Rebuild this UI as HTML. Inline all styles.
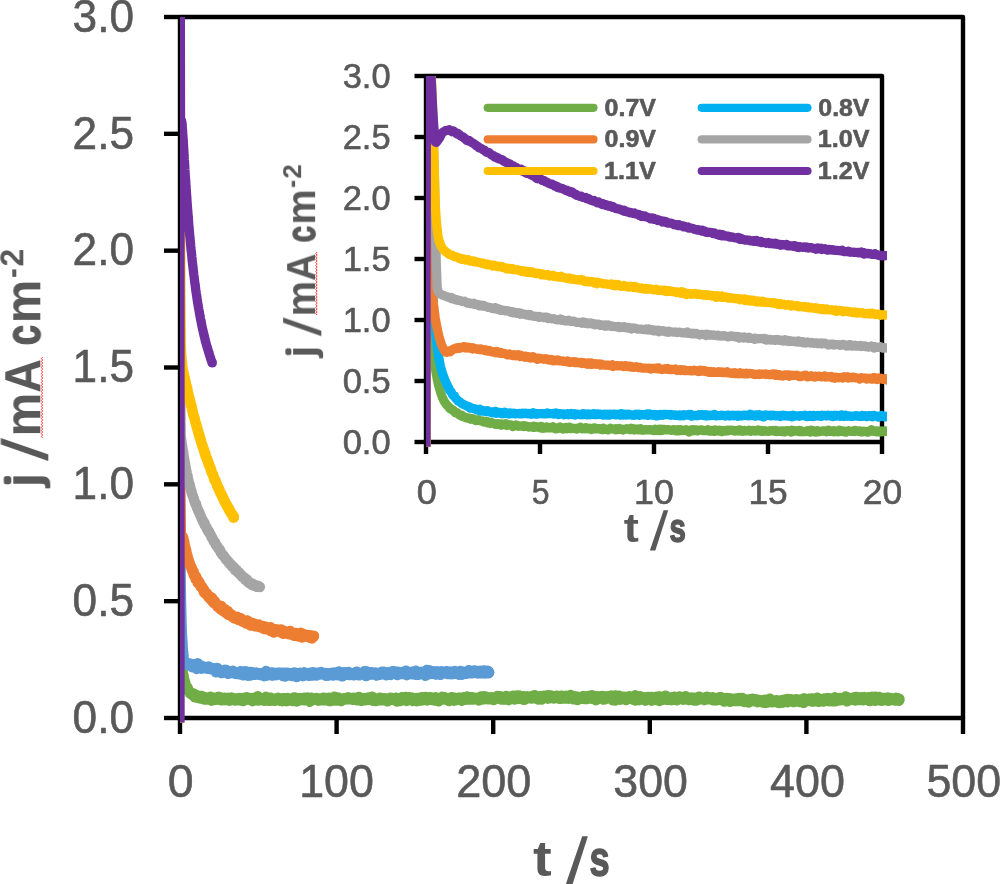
<!DOCTYPE html>
<html><head><meta charset="utf-8"><title>chart</title><style>html,body{margin:0;padding:0;background:#fff;overflow:hidden}svg{display:block}</style></head><body><svg width="1000" height="884" viewBox="0 0 1000 884">
<defs><clipPath id="cm"><rect x="180" y="17" width="830" height="720"/></clipPath><clipPath id="ci"><rect x="426" y="76" width="461" height="380"/></clipPath></defs>
<rect width="1000" height="884" fill="#fff"/>
<g stroke="#000" stroke-width="4.4" fill="none" stroke-linecap="butt" stroke-linejoin="round">
<rect x="180.0" y="17.0" width="783.0" height="701.0"/>
<path d="M164,718.00H180.0"/>
<path d="M164,601.17H180.0"/>
<path d="M164,484.33H180.0"/>
<path d="M164,367.50H180.0"/>
<path d="M164,250.67H180.0"/>
<path d="M164,133.83H180.0"/>
<path d="M164,17.00H180.0"/>
<path d="M180.00,718.0V734"/>
<path d="M336.60,718.0V734"/>
<path d="M493.20,718.0V734"/>
<path d="M649.80,718.0V734"/>
<path d="M806.40,718.0V734"/>
<path d="M963.00,718.0V734"/>
</g>
<g clip-path="url(#cm)" fill="none" stroke-linejoin="round" stroke-linecap="butt">
<path d="M178.7,722.4 178.8,-123.1 178.9,-86.4 179.5,487.2 180.1,587.7 180.6,623.8 181.0,643.6 181.4,654.3 181.8,659.7 182.2,664.8 182.5,670.0 182.8,673.0 183.2,674.8 183.5,675.3 183.8,677.5 184.1,680.0 184.5,679.8 184.8,682.2 185.1,682.0 185.4,683.7 185.7,684.1 186.0,686.5 186.3,686.2 186.7,688.4 187.0,688.9 187.3,689.2 187.6,687.5 187.9,689.8 188.2,690.7 188.5,691.2 188.8,690.0 189.2,691.3 189.5,691.2 189.8,691.6 190.1,693.7 190.4,692.1 190.7,693.1 191.0,694.2 191.4,693.0 191.7,693.7 192.0,694.1 192.3,694.2 192.6,693.2 192.9,694.6 193.2,696.0 193.5,693.4 193.9,695.8 194.2,695.3 194.5,694.7 194.8,697.4 195.1,696.3 195.4,694.6 195.7,696.0 196.1,696.6 196.4,695.9 196.7,696.9 197.0,696.3 197.3,697.1 197.6,697.9 197.9,696.0 198.2,697.0 198.6,696.4 198.9,697.1 199.2,695.9 199.5,696.6 199.8,697.1 200.1,698.2 200.4,698.5 200.7,696.3 201.1,696.9 201.4,698.3 201.7,695.9 202.0,697.4 202.3,697.8 202.6,699.1 202.9,698.7 203.3,697.7 203.6,697.7 203.9,697.9 204.2,699.6 204.5,697.8 204.8,697.9 205.1,698.6 205.4,698.2 205.8,698.1 206.1,697.3 206.4,698.3 206.7,697.9 207.0,699.5 207.3,699.0 207.6,698.4 208.0,699.1 208.3,698.1 208.6,699.5 208.9,698.5 209.2,699.1 209.5,697.3 209.8,698.9 210.1,696.9 210.5,696.6 210.8,698.3 211.1,697.7 211.4,698.8 211.7,700.7 212.0,697.8 212.3,698.0 212.7,698.8 213.0,699.1 213.3,698.5 213.6,698.5 213.9,699.4 214.2,699.2 214.5,697.7 214.8,698.6 215.2,698.8 215.5,697.7 215.8,699.0 216.1,697.9 216.4,699.7 216.7,699.0 217.0,698.9 217.3,698.2 217.7,698.7 218.0,696.9 218.3,697.8 218.6,699.2 218.9,696.8 219.2,699.7 219.5,697.2 219.9,699.6 220.2,698.1 220.5,699.6 220.8,699.0 221.1,697.5 221.4,700.1 221.7,700.3 222.0,698.9 222.4,698.7 222.7,698.8 223.0,698.1 223.3,700.0 223.6,698.5 223.9,699.0 224.2,698.3 224.6,698.4 224.9,697.8 225.2,700.2 225.5,698.9 225.8,700.0 226.1,699.1 226.4,698.4 226.7,698.8 227.1,698.6 227.4,699.1 227.7,698.8 228.0,698.8 228.3,697.8 228.6,698.4 228.9,700.7 229.3,698.5 229.6,698.2 229.9,699.5 230.2,700.5 230.5,697.8 230.8,699.0 231.1,698.6 231.4,697.5 231.8,699.9 232.1,699.2 232.4,699.3 232.7,698.5 233.0,699.7 233.3,698.7 233.6,699.1 233.9,698.2 234.3,698.1 234.6,700.5 234.9,698.8 235.2,699.5 235.5,699.2 235.8,698.8 236.1,698.8 236.5,699.9 236.8,699.0 237.1,699.1 237.4,699.3 237.7,700.4 238.0,699.9 238.3,699.7 238.6,698.8 239.0,698.0 239.3,700.2 239.6,700.2 239.9,699.2 240.2,699.8 240.5,700.0 240.8,700.1 241.2,700.2 241.5,698.9 241.8,700.7 242.1,698.1 242.4,700.1 242.7,699.8 243.0,700.1 243.3,701.1 243.7,700.7 244.0,698.2 244.3,697.7 244.6,700.1 244.9,698.3 245.2,699.3 245.5,700.1 245.9,697.7 246.2,697.3 246.5,699.6 246.8,699.3 247.1,699.1 247.4,699.3 247.7,698.5 248.0,697.9 248.4,699.1 248.7,698.4 249.0,697.7 249.3,699.8 249.6,699.2 249.9,699.7 250.2,698.4 250.5,698.7 250.9,698.4 251.2,698.5 251.5,699.5 251.8,698.6 252.1,699.6 252.4,699.6 252.7,701.2 253.1,698.0 253.4,700.2 253.7,699.2 254.0,699.3 254.3,697.9 254.6,698.9 254.9,700.0 255.2,699.2 255.6,699.4 255.9,699.0 256.2,700.4 256.5,699.3 256.8,697.2 257.1,698.6 257.4,697.4 257.8,696.2 258.1,698.8 258.4,700.6 258.7,699.4 259.0,698.2 259.3,698.4 259.6,700.4 259.9,699.5 260.3,699.4 260.6,699.3 260.9,699.3 261.2,700.1 261.5,699.8 261.8,699.5 262.1,698.3 262.4,699.8 262.8,698.7 263.1,700.3 263.4,698.1 263.7,699.2 264.0,699.3 264.3,698.0 264.6,700.9 265.0,700.7 265.3,698.9 265.6,700.0 265.9,699.7 266.2,696.8 266.5,699.5 266.8,699.2 267.1,699.4 267.5,698.3 267.8,699.1 268.1,699.1 268.4,700.4 268.7,699.6 269.0,699.3 269.3,700.8 269.7,698.8 270.0,698.9 270.3,697.6 270.6,700.8 270.9,700.2 271.2,700.2 271.5,699.9 271.8,699.4 272.2,699.5 272.5,699.1 272.8,699.1 273.1,699.4 273.4,700.7 273.7,699.8 274.0,699.3 274.4,698.8 274.7,698.7 275.0,700.8 275.3,699.8 275.6,699.4 275.9,699.0 276.2,698.3 276.5,699.2 276.9,700.1 277.2,698.9 277.5,699.1 277.8,699.1 278.1,699.4 278.4,697.8 278.7,699.1 279.0,698.5 279.4,700.1 279.7,698.6 280.0,699.9 280.3,700.8 280.6,699.0 280.9,698.7 281.2,699.5 281.6,699.3 281.9,698.4 282.2,699.7 282.5,701.2 282.8,699.1 283.1,699.1 283.4,698.3 283.7,699.6 284.1,698.1 284.4,698.3 284.7,700.5 285.0,698.4 285.3,700.3 285.6,700.8 285.9,699.6 286.3,699.8 286.6,701.2 286.9,699.1 287.2,698.7 287.5,698.0 287.8,699.3 288.1,700.7 288.4,700.2 288.8,698.4 289.1,698.5 289.4,698.8 289.7,699.6 290.0,699.1 290.3,699.5 290.6,699.6 291.0,699.0 291.3,699.3 291.6,699.5 291.9,699.2 292.2,699.8 292.5,701.1 292.8,699.9 293.1,699.4 293.5,697.7 293.8,699.7 294.1,697.5 294.4,698.0 294.7,700.1 295.0,700.0 295.3,699.2 295.6,697.7 296.0,699.0 296.3,698.7 296.6,699.9 296.9,701.5 297.2,699.5 297.5,698.6 297.8,698.2 298.2,699.3 298.5,699.1 298.8,698.2 299.1,699.4 299.4,698.2 299.7,700.4 300.0,700.3 300.3,700.3 300.7,698.9 301.0,699.8 301.3,699.2 301.6,698.9 301.9,699.0 302.2,698.1 302.5,697.9 302.9,700.1 303.2,699.1 303.5,699.5 303.8,700.3 304.1,697.7 304.4,698.6 304.7,699.5 305.0,699.7 305.4,698.9 305.7,700.3 306.0,699.5 306.3,698.2 306.6,698.4 306.9,700.1 307.2,699.7 307.6,697.5 307.9,700.6 308.2,699.9 308.5,700.6 308.8,698.9 309.1,699.0 309.4,698.2 309.7,701.7 310.1,699.1 310.4,700.8 310.7,698.7 311.0,699.5 311.3,697.7 311.6,698.9 311.9,700.2 312.2,698.1 312.6,700.3 312.9,699.6 313.2,698.3 313.5,698.8 313.8,698.9 314.1,699.3 314.4,698.8 314.8,698.5 315.1,699.0 315.4,698.3 315.7,698.1 316.0,699.3 316.3,700.1 316.6,697.9 316.9,699.3 317.3,698.7 317.6,698.4 317.9,700.1 318.2,698.8 318.5,700.7 318.8,698.6 319.1,699.7 319.5,699.1 319.8,698.6 320.1,699.9 320.4,699.2 320.7,699.9 321.0,699.3 321.3,698.3 321.6,699.2 322.0,699.4 322.3,700.2 322.6,698.4 322.9,699.3 323.2,697.7 323.5,699.9 323.8,698.3 324.2,697.6 324.5,699.3 324.8,700.4 325.1,697.9 325.4,698.3 325.7,698.6 326.0,698.2 326.3,699.7 326.7,698.5 327.0,698.6 327.3,699.9 327.6,698.6 327.9,699.7 328.2,698.4 328.5,698.2 328.8,697.6 329.2,701.1 329.5,699.0 329.8,699.5 330.1,699.3 330.4,699.5 330.7,699.4 331.0,701.1 331.4,698.3 331.7,697.8 332.0,698.3 332.3,698.0 332.6,700.0 332.9,700.1 333.2,698.4 333.5,698.0 333.9,699.0 334.2,700.6 334.5,696.6 334.8,699.8 335.1,698.3 335.4,700.3 335.7,698.3 336.1,699.0 336.4,697.9 336.7,698.4 337.0,700.6 337.3,700.1 337.6,698.9 337.9,698.5 338.2,697.5 338.6,698.9 338.9,699.3 339.2,699.2 339.5,699.2 339.8,698.2 340.1,699.2 340.4,699.3 340.7,700.5 341.1,701.1 341.4,699.2 341.7,698.6 342.0,699.2 342.3,698.7 342.6,698.6 342.9,699.2 343.3,698.3 343.6,699.9 343.9,699.2 344.2,699.5 344.5,699.1 344.8,698.6 345.1,698.4 345.4,699.1 345.8,698.8 346.1,699.5 346.4,699.3 346.7,698.0 347.0,699.4 347.3,698.0 347.6,698.7 348.0,699.0 348.3,697.3 348.6,699.4 348.9,699.4 349.2,699.1 349.5,698.9 349.8,698.9 350.1,698.4 350.5,699.0 350.8,698.8 351.1,699.4 351.4,698.2 351.7,699.5 352.0,699.4 352.3,699.2 352.7,698.9 353.0,699.8 353.3,697.7 353.6,699.7 353.9,699.5 354.2,699.6 354.5,699.7 354.8,698.7 355.2,699.0 355.5,699.9 355.8,699.7 356.1,699.5 356.4,697.8 356.7,699.8 357.0,700.4 357.3,700.2 357.7,699.5 358.0,697.8 358.3,700.2 358.6,699.1 358.9,696.9 359.2,699.6 359.5,697.9 359.9,698.0 360.2,698.7 360.5,700.5 360.8,698.9 361.1,699.5 361.4,700.9 361.7,700.8 362.0,699.2 362.4,699.0 362.7,698.1 363.0,698.6 363.3,699.7 363.6,699.6 363.9,699.4 364.2,700.2 364.6,698.5 364.9,699.2 365.2,700.0 365.5,699.8 365.8,700.3 366.1,699.6 366.4,699.0 366.7,699.6 367.1,698.3 367.4,697.7 367.7,699.8 368.0,699.2 368.3,699.6 368.6,697.6 368.9,698.9 369.3,698.7 369.6,698.4 369.9,697.1 370.2,698.9 370.5,700.1 370.8,699.6 371.1,698.7 371.4,699.2 371.8,700.0 372.1,696.6 372.4,699.1 372.7,699.8 373.0,699.9 373.3,700.9 373.6,700.3 373.9,699.5 374.3,699.5 374.6,700.0 374.9,698.7 375.2,699.2 375.5,700.1 375.8,701.1 376.1,699.1 376.5,699.2 376.8,699.4 377.1,700.5 377.4,699.2 377.7,700.6 378.0,698.3 378.3,699.1 378.6,699.0 379.0,700.0 379.3,700.2 379.6,697.8 379.9,698.4 380.2,699.5 380.5,698.6 380.8,697.8 381.2,700.2 381.5,699.7 381.8,699.7 382.1,698.8 382.4,700.2 382.7,699.0 383.0,700.3 383.3,698.3 383.7,698.4 384.0,699.4 384.3,698.5 384.6,699.8 384.9,699.5 385.2,698.3 385.5,699.3 385.9,698.9 386.2,700.1 386.5,698.6 386.8,698.8 387.1,700.3 387.4,701.3 387.7,701.1 388.0,699.3 388.4,699.4 388.7,700.6 389.0,699.1 389.3,698.3 389.6,699.3 389.9,699.6 390.2,698.4 390.5,697.6 390.9,697.8 391.2,699.8 391.5,698.5 391.8,699.0 392.1,699.4 392.4,699.8 392.7,698.9 393.1,699.6 393.4,698.3 393.7,698.8 394.0,698.2 394.3,700.2 394.6,699.1 394.9,698.5 395.2,698.8 395.6,699.0 395.9,699.8 396.2,697.6 396.5,698.2 396.8,698.8 397.1,701.6 397.4,700.1 397.8,699.0 398.1,699.8 398.4,701.1 398.7,698.9 399.0,698.8 399.3,700.3 399.6,699.6 399.9,699.8 400.3,698.7 400.6,701.0 400.9,700.8 401.2,699.7 401.5,699.8 401.8,697.2 402.1,699.7 402.5,698.9 402.8,699.5 403.1,699.8 403.4,698.8 403.7,697.5 404.0,699.5 404.3,698.4 404.6,698.8 405.0,698.5 405.3,698.8 405.6,696.9 405.9,700.3 406.2,699.4 406.5,700.2 406.8,701.0 407.1,699.1 407.5,697.4 407.8,698.3 408.1,698.0 408.4,698.6 408.7,699.2 409.0,697.2 409.3,699.4 409.7,697.7 410.0,699.4 410.3,699.0 410.6,698.8 410.9,699.0 411.2,698.6 411.5,698.5 411.8,697.5 412.2,699.1 412.5,700.8 412.8,701.0 413.1,700.3 413.4,699.8 413.7,698.4 414.0,700.4 414.4,699.0 414.7,699.0 415.0,698.8 415.3,699.2 415.6,698.7 415.9,699.0 416.2,698.0 416.5,698.7 416.9,701.2 417.2,699.0 417.5,698.8 417.8,699.6 418.1,699.7 418.4,698.0 418.7,698.9 419.0,699.9 419.4,699.3 419.7,699.2 420.0,700.5 420.3,698.4 420.6,699.1 420.9,698.5 421.2,700.5 421.6,697.2 421.9,698.4 422.2,698.5 422.5,699.7 422.8,699.6 423.1,700.3 423.4,697.5 423.7,699.7 424.1,698.7 424.4,698.4 424.7,699.5 425.0,698.1 425.3,697.0 425.6,698.7 425.9,697.6 426.3,698.4 426.6,699.4 426.9,699.3 427.2,700.5 427.5,698.8 427.8,697.5 428.1,698.3 428.4,698.1 428.8,697.8 429.1,699.4 429.4,698.4 429.7,697.1 430.0,699.6 430.3,698.9 430.6,699.3 431.0,699.1 431.3,699.6 431.6,699.0 431.9,700.1 432.2,699.4 432.5,699.3 432.8,699.3 433.1,697.6 433.5,698.8 433.8,698.7 434.1,699.1 434.4,697.6 434.7,700.5 435.0,699.0 435.3,697.8 435.6,697.3 436.0,698.6 436.3,698.8 436.6,698.2 436.9,699.0 437.2,698.3 437.5,699.4 437.8,698.2 438.2,698.9 438.5,699.8 438.8,701.3 439.1,697.9 439.4,698.4 439.7,698.1 440.0,699.6 440.3,697.8 440.7,698.4 441.0,698.8 441.3,697.9 441.6,697.9 441.9,698.4 442.2,696.8 442.5,697.5 442.9,698.4 443.2,699.0 443.5,698.7 443.8,697.1 444.1,698.4 444.4,699.6 444.7,699.3 445.0,698.7 445.4,698.0 445.7,699.4 446.0,698.2 446.3,697.7 446.6,698.0 446.9,700.2 447.2,699.0 447.6,699.9 447.9,698.3 448.2,699.7 448.5,698.2 448.8,698.6 449.1,701.1 449.4,699.5 449.7,698.3 450.1,698.7 450.4,699.1 450.7,699.9 451.0,698.3 451.3,697.1 451.6,698.5 451.9,698.7 452.2,698.8 452.6,700.0 452.9,699.0 453.2,699.5 453.5,697.7 453.8,699.5 454.1,700.7 454.4,699.4 454.8,698.9 455.1,698.8 455.4,700.4 455.7,697.8 456.0,698.6 456.3,699.1 456.6,699.4 456.9,698.2 457.3,698.9 457.6,698.4 457.9,698.8 458.2,698.5 458.5,697.6 458.8,698.6 459.1,699.5 459.5,697.7 459.8,698.4 460.1,699.2 460.4,697.6 460.7,698.8 461.0,697.6 461.3,699.7 461.6,700.8 462.0,700.5 462.3,698.4 462.6,699.3 462.9,698.7 463.2,698.7 463.5,700.0 463.8,697.3 464.2,699.6 464.5,698.5 464.8,699.9 465.1,698.7 465.4,697.9 465.7,698.8 466.0,699.2 466.3,698.6 466.7,699.0 467.0,698.0 467.3,696.5 467.6,699.4 467.9,699.2 468.2,698.6 468.5,698.6 468.8,699.5 469.2,698.1 469.5,697.8 469.8,698.3 470.1,699.6 470.4,697.2 470.7,699.6 471.0,697.9 471.4,697.4 471.7,699.6 472.0,698.4 472.3,697.2 472.6,698.1 472.9,699.3 473.2,699.6 473.5,698.0 473.9,698.8 474.2,699.1 474.5,697.8 474.8,698.7 475.1,698.4 475.4,697.9 475.7,697.9 476.1,698.5 476.4,698.4 476.7,697.8 477.0,698.0 477.3,699.4 477.6,698.6 477.9,699.2 478.2,699.5 478.6,698.9 478.9,700.5 479.2,697.6 479.5,699.1 479.8,698.0 480.1,700.1 480.4,699.9 480.8,696.5 481.1,697.4 481.4,698.9 481.7,699.1 482.0,699.0 482.3,698.2 482.6,698.7 482.9,698.9 483.3,698.2 483.6,699.3 483.9,696.1 484.2,698.9 484.5,697.3 484.8,699.2 485.1,698.0 485.4,697.4 485.8,698.6 486.1,697.4 486.4,697.4 486.7,696.7 487.0,698.2 487.3,698.7 487.6,699.2 488.0,698.1 488.3,699.2 488.6,698.2 488.9,698.1 489.2,698.7 489.5,699.2 489.8,697.9 490.1,698.0 490.5,698.0 490.8,698.3 491.1,697.3 491.4,699.1 491.7,697.8 492.0,698.6 492.3,697.4 492.7,698.5 493.0,698.5 493.3,697.7 493.6,700.1 493.9,698.5 494.2,699.8 494.5,699.0 494.8,697.5 495.2,697.7 495.5,698.5 495.8,698.2 496.1,698.1 496.4,697.8 496.7,696.4 497.0,697.9 497.3,696.0 497.7,698.4 498.0,697.4 498.3,697.4 498.6,697.8 498.9,698.3 499.2,696.7 499.5,696.4 499.9,697.0 500.2,696.1 500.5,697.1 500.8,699.5 501.1,697.0 501.4,698.6 501.7,696.7 502.0,698.3 502.4,697.7 502.7,697.9 503.0,698.5 503.3,699.6 503.6,698.1 503.9,698.1 504.2,697.0 504.6,698.5 504.9,697.7 505.2,698.7 505.5,697.9 505.8,699.6 506.1,696.0 506.4,697.6 506.7,698.7 507.1,697.5 507.4,697.1 507.7,697.6 508.0,696.5 508.3,698.0 508.6,700.2 508.9,698.9 509.3,696.8 509.6,697.0 509.9,697.4 510.2,698.8 510.5,697.0 510.8,697.1 511.1,698.6 511.4,698.6 511.8,697.4 512.1,696.7 512.4,696.3 512.7,697.1 513.0,695.6 513.3,698.5 513.6,697.1 513.9,698.2 514.3,699.5 514.6,698.8 514.9,696.6 515.2,698.5 515.5,698.8 515.8,697.0 516.1,696.8 516.5,697.6 516.8,696.1 517.1,699.0 517.4,695.4 517.7,696.6 518.0,697.4 518.3,697.4 518.6,697.8 519.0,697.9 519.3,697.4 519.6,698.7 519.9,695.6 520.2,697.6 520.5,696.9 520.8,697.7 521.2,697.8 521.5,696.7 521.8,696.9 522.1,698.3 522.4,697.9 522.7,696.9 523.0,699.5 523.3,699.7 523.7,696.1 524.0,697.8 524.3,699.9 524.6,698.2 524.9,697.7 525.2,697.3 525.5,697.0 525.9,697.3 526.2,696.9 526.5,698.2 526.8,697.1 527.1,697.0 527.4,696.3 527.7,697.4 528.0,696.6 528.4,697.2 528.7,698.4 529.0,697.7 529.3,697.9 529.6,697.7 529.9,697.4 530.2,697.3 530.5,697.1 530.9,698.1 531.2,696.3 531.5,698.6 531.8,697.4 532.1,696.6 532.4,696.9 532.7,696.7 533.1,697.5 533.4,696.6 533.7,698.4 534.0,696.6 534.3,695.2 534.6,696.6 534.9,695.4 535.2,697.3 535.6,698.3 535.9,697.9 536.2,696.0 536.5,696.6 536.8,699.0 537.1,697.6 537.4,697.3 537.8,698.3 538.1,699.6 538.4,698.5 538.7,697.4 539.0,697.6 539.3,697.8 539.6,696.7 539.9,696.2 540.3,697.3 540.6,696.3 540.9,697.2 541.2,697.3 541.5,699.5 541.8,696.4 542.1,697.1 542.5,697.1 542.8,697.6 543.1,698.2 543.4,696.8 543.7,696.4 544.0,695.7 544.3,696.3 544.6,697.7 545.0,697.3 545.3,696.2 545.6,696.9 545.9,697.2 546.2,697.7 546.5,696.6 546.8,697.0 547.1,695.5 547.5,696.1 547.8,698.7 548.1,695.1 548.4,696.9 548.7,697.4 549.0,696.8 549.3,696.4 549.7,697.1 550.0,697.2 550.3,697.1 550.6,695.4 550.9,697.1 551.2,696.4 551.5,696.7 551.8,697.4 552.2,697.8 552.5,698.1 552.8,696.7 553.1,698.1 553.4,698.3 553.7,698.3 554.0,698.5 554.4,697.1 554.7,697.1 555.0,698.0 555.3,695.9 555.6,697.4 555.9,696.7 556.2,696.9 556.5,695.6 556.9,696.4 557.2,697.2 557.5,698.1 557.8,698.2 558.1,697.2 558.4,697.1 558.7,696.4 559.1,697.6 559.4,697.0 559.7,697.8 560.0,698.9 560.3,697.2 560.6,695.8 560.9,696.4 561.2,695.9 561.6,696.1 561.9,698.5 562.2,697.5 562.5,695.8 562.8,697.9 563.1,698.5 563.4,696.9 563.7,696.6 564.1,696.9 564.4,697.5 564.7,697.9 565.0,698.4 565.3,698.4 565.6,698.4 565.9,698.6 566.3,697.9 566.6,695.8 566.9,697.2 567.2,697.6 567.5,696.9 567.8,698.2 568.1,697.0 568.4,696.4 568.8,698.7 569.1,697.9 569.4,697.5 569.7,698.2 570.0,698.3 570.3,697.6 570.6,695.0 571.0,696.7 571.3,696.9 571.6,696.4 571.9,697.5 572.2,698.5 572.5,696.9 572.8,696.3 573.1,699.3 573.5,696.9 573.8,696.2 574.1,697.6 574.4,697.8 574.7,696.7 575.0,698.1 575.3,696.9 575.6,696.5 576.0,697.6 576.3,698.1 576.6,696.8 576.9,697.7 577.2,697.3 577.5,700.1 577.8,696.7 578.2,698.7 578.5,697.4 578.8,697.3 579.1,698.1 579.4,698.3 579.7,698.6 580.0,697.7 580.3,696.9 580.7,696.9 581.0,697.9 581.3,698.0 581.6,698.8 581.9,697.8 582.2,698.5 582.5,698.9 582.9,697.6 583.2,696.0 583.5,696.3 583.8,696.1 584.1,699.0 584.4,696.7 584.7,698.6 585.0,698.0 585.4,699.1 585.7,698.4 586.0,697.4 586.3,697.3 586.6,697.6 586.9,697.7 587.2,697.0 587.6,697.5 587.9,699.0 588.2,695.9 588.5,697.8 588.8,696.7 589.1,697.7 589.4,698.3 589.7,697.5 590.1,698.3 590.4,696.0 590.7,698.6 591.0,697.0 591.3,698.1 591.6,697.7 591.9,695.1 592.2,696.8 592.6,697.8 592.9,699.0 593.2,697.8 593.5,697.8 593.8,696.2 594.1,698.9 594.4,699.3 594.8,697.6 595.1,697.4 595.4,696.1 595.7,698.4 596.0,700.2 596.3,698.3 596.6,698.8 596.9,698.1 597.3,696.7 597.6,698.9 597.9,696.5 598.2,697.4 598.5,697.9 598.8,698.5 599.1,698.0 599.5,698.0 599.8,696.9 600.1,696.4 600.4,697.7 600.7,697.0 601.0,696.4 601.3,696.5 601.6,697.2 602.0,695.9 602.3,696.4 602.6,696.1 602.9,697.8 603.2,698.1 603.5,699.6 603.8,696.3 604.2,697.0 604.5,698.6 604.8,697.5 605.1,697.4 605.4,699.3 605.7,697.4 606.0,696.6 606.3,696.5 606.7,698.0 607.0,698.0 607.3,696.4 607.6,696.8 607.9,698.2 608.2,698.3 608.5,697.1 608.8,698.3 609.2,698.3 609.5,696.0 609.8,697.4 610.1,698.1 610.4,697.2 610.7,695.7 611.0,697.5 611.4,698.5 611.7,699.3 612.0,695.7 612.3,700.2 612.6,696.7 612.9,698.7 613.2,698.9 613.5,698.7 613.9,697.9 614.2,696.7 614.5,698.4 614.8,697.1 615.1,695.4 615.4,700.5 615.7,698.5 616.1,699.5 616.4,696.9 616.7,699.2 617.0,699.3 617.3,699.3 617.6,697.8 617.9,696.7 618.2,697.6 618.6,695.7 618.9,696.2 619.2,697.9 619.5,696.9 619.8,697.7 620.1,697.7 620.4,699.7 620.8,699.1 621.1,697.8 621.4,699.0 621.7,697.1 622.0,697.5 622.3,698.7 622.6,696.7 622.9,697.6 623.3,696.6 623.6,698.0 623.9,699.4 624.2,697.1 624.5,698.1 624.8,697.0 625.1,696.8 625.4,696.7 625.8,699.2 626.1,700.1 626.4,698.3 626.7,697.2 627.0,698.5 627.3,697.6 627.6,698.6 628.0,698.2 628.3,698.2 628.6,698.5 628.9,697.3 629.2,697.5 629.5,696.3 629.8,697.5 630.1,696.6 630.5,697.8 630.8,697.0 631.1,698.0 631.4,698.3 631.7,696.6 632.0,697.1 632.3,697.0 632.7,698.6 633.0,699.5 633.3,698.7 633.6,697.6 633.9,699.3 634.2,696.5 634.5,699.4 634.8,697.3 635.2,695.3 635.5,700.5 635.8,699.4 636.1,697.0 636.4,698.1 636.7,697.8 637.0,698.1 637.4,696.6 637.7,697.3 638.0,698.4 638.3,698.2 638.6,699.1 638.9,698.1 639.2,700.2 639.5,697.3 639.9,698.2 640.2,696.2 640.5,696.8 640.8,699.3 641.1,697.1 641.4,698.5 641.7,697.9 642.0,697.0 642.4,697.7 642.7,697.5 643.0,697.5 643.3,698.7 643.6,698.6 643.9,697.5 644.2,697.2 644.6,698.3 644.9,697.9 645.2,699.0 645.5,700.6 645.8,698.8 646.1,698.0 646.4,697.9 646.7,697.2 647.1,697.2 647.4,697.1 647.7,697.7 648.0,697.6 648.3,698.8 648.6,697.7 648.9,697.9 649.3,696.9 649.6,699.6 649.9,698.5 650.2,699.8 650.5,698.8 650.8,699.5 651.1,697.8 651.4,698.8 651.8,700.7 652.1,696.9 652.4,699.2 652.7,699.7 653.0,698.5 653.3,698.8 653.6,699.3 653.9,697.5 654.3,698.5 654.6,697.3 654.9,697.5 655.2,697.5 655.5,698.0 655.8,698.3 656.1,698.6 656.5,696.7 656.8,700.1 657.1,699.3 657.4,698.8 657.7,697.8 658.0,698.1 658.3,698.7 658.6,698.5 659.0,696.5 659.3,698.9 659.6,701.0 659.9,696.4 660.2,699.1 660.5,698.5 660.8,698.1 661.2,699.5 661.5,697.0 661.8,698.3 662.1,699.6 662.4,698.0 662.7,697.8 663.0,698.3 663.3,697.8 663.7,699.7 664.0,697.3 664.3,699.1 664.6,697.0 664.9,698.9 665.2,698.1 665.5,695.7 665.9,698.2 666.2,697.2 666.5,697.8 666.8,699.7 667.1,697.1 667.4,697.2 667.7,699.6 668.0,698.4 668.4,699.8 668.7,698.6 669.0,697.4 669.3,698.2 669.6,699.5 669.9,699.2 670.2,698.3 670.5,698.3 670.9,698.2 671.2,697.7 671.5,700.2 671.8,698.3 672.1,697.2 672.4,697.8 672.7,699.0 673.1,698.9 673.4,698.2 673.7,697.7 674.0,698.3 674.3,696.7 674.6,697.0 674.9,699.1 675.2,697.9 675.6,698.7 675.9,699.5 676.2,699.0 676.5,698.4 676.8,700.4 677.1,699.0 677.4,698.0 677.8,699.1 678.1,698.8 678.4,697.5 678.7,698.4 679.0,698.2 679.3,696.4 679.6,698.2 679.9,698.1 680.3,698.0 680.6,696.8 680.9,698.0 681.2,698.4 681.5,698.5 681.8,697.3 682.1,699.0 682.5,697.2 682.8,698.2 683.1,699.7 683.4,697.7 683.7,697.9 684.0,699.5 684.3,698.1 684.6,698.1 685.0,698.7 685.3,699.5 685.6,696.3 685.9,697.6 686.2,697.5 686.5,697.4 686.8,697.6 687.1,697.7 687.5,698.8 687.8,697.6 688.1,698.6 688.4,698.9 688.7,697.8 689.0,698.6 689.3,700.1 689.7,698.8 690.0,697.9 690.3,698.4 690.6,697.6 690.9,698.8 691.2,699.4 691.5,697.7 691.8,698.3 692.2,699.6 692.5,698.1 692.8,698.7 693.1,697.6 693.4,697.8 693.7,698.1 694.0,700.6 694.4,698.2 694.7,698.1 695.0,698.0 695.3,698.4 695.6,699.2 695.9,698.8 696.2,700.6 696.5,698.8 696.9,700.0 697.2,698.9 697.5,699.2 697.8,697.3 698.1,698.5 698.4,698.6 698.7,698.4 699.1,696.6 699.4,699.5 699.7,698.3 700.0,698.2 700.3,698.4 700.6,698.5 700.9,699.1 701.2,697.5 701.6,697.8 701.9,699.0 702.2,698.8 702.5,698.4 702.8,698.2 703.1,697.9 703.4,698.7 703.7,699.9 704.1,697.7 704.4,700.2 704.7,699.6 705.0,698.3 705.3,699.5 705.6,697.4 705.9,697.2 706.3,697.6 706.6,698.4 706.9,698.5 707.2,698.3 707.5,698.9 707.8,696.8 708.1,699.3 708.4,697.5 708.8,698.3 709.1,698.5 709.4,697.8 709.7,697.6 710.0,698.0 710.3,698.9 710.6,699.5 711.0,699.5 711.3,698.0 711.6,698.2 711.9,698.1 712.2,699.4 712.5,697.1 712.8,700.2 713.1,698.6 713.5,698.3 713.8,699.4 714.1,700.0 714.4,699.4 714.7,700.1 715.0,699.2 715.3,700.3 715.7,700.3 716.0,699.0 716.3,700.5 716.6,699.3 716.9,699.2 717.2,698.3 717.5,698.9 717.8,699.9 718.2,698.0 718.5,699.8 718.8,699.6 719.1,699.5 719.4,697.2 719.7,699.2 720.0,699.9 720.3,698.6 720.7,699.4 721.0,697.1 721.3,700.0 721.6,698.7 721.9,700.2 722.2,697.6 722.5,700.0 722.9,699.2 723.2,700.2 723.5,698.5 723.8,698.8 724.1,701.6 724.4,698.7 724.7,698.8 725.0,699.2 725.4,698.5 725.7,700.6 726.0,701.2 726.3,698.9 726.6,697.9 726.9,700.7 727.2,700.6 727.6,700.4 727.9,700.7 728.2,698.8 728.5,699.5 728.8,698.3 729.1,698.3 729.4,700.6 729.7,699.0 730.1,701.8 730.4,699.8 730.7,699.1 731.0,700.5 731.3,701.4 731.6,700.2 731.9,698.6 732.2,700.1 732.6,701.1 732.9,699.3 733.2,699.1 733.5,700.8 733.8,700.0 734.1,698.8 734.4,699.5 734.8,699.2 735.1,700.2 735.4,700.0 735.7,701.0 736.0,700.6 736.3,698.5 736.6,700.3 736.9,700.8 737.3,700.4 737.6,701.0 737.9,699.5 738.2,699.1 738.5,700.9 738.8,699.0 739.1,698.0 739.5,701.0 739.8,699.4 740.1,699.8 740.4,698.8 740.7,698.9 741.0,699.0 741.3,699.8 741.6,700.5 742.0,698.0 742.3,700.9 742.6,699.1 742.9,699.2 743.2,700.9 743.5,700.2 743.8,698.8 744.2,702.0 744.5,699.4 744.8,700.5 745.1,700.5 745.4,701.6 745.7,699.9 746.0,701.3 746.3,699.6 746.7,701.4 747.0,699.6 747.3,700.0 747.6,702.2 747.9,700.7 748.2,700.5 748.5,702.5 748.8,700.8 749.2,699.7 749.5,701.1 749.8,699.3 750.1,701.5 750.4,701.6 750.7,699.9 751.0,699.9 751.4,700.7 751.7,700.5 752.0,699.6 752.3,701.1 752.6,698.6 752.9,700.1 753.2,700.2 753.5,700.3 753.9,700.9 754.2,699.4 754.5,701.2 754.8,700.4 755.1,700.0 755.4,699.3 755.7,699.5 756.1,701.0 756.4,699.7 756.7,700.7 757.0,701.7 757.3,701.7 757.6,702.2 757.9,700.4 758.2,699.7 758.6,701.7 758.9,701.0 759.2,701.8 759.5,700.7 759.8,701.9 760.1,701.6 760.4,701.4 760.8,701.2 761.1,701.2 761.4,701.0 761.7,701.0 762.0,701.7 762.3,700.3 762.6,702.5 762.9,700.7 763.3,701.8 763.6,700.7 763.9,700.6 764.2,702.8 764.5,700.6 764.8,699.6 765.1,700.2 765.4,700.6 765.8,702.9 766.1,701.1 766.4,701.8 766.7,699.9 767.0,701.2 767.3,701.5 767.6,702.6 768.0,700.2 768.3,701.5 768.6,701.2 768.9,699.9 769.2,700.9 769.5,700.7 769.8,698.7 770.1,701.5 770.5,701.4 770.8,700.5 771.1,699.7 771.4,702.3 771.7,701.2 772.0,701.9 772.3,702.3 772.7,700.4 773.0,701.7 773.3,700.7 773.6,700.9 773.9,700.9 774.2,700.9 774.5,702.0 774.8,701.1 775.2,700.8 775.5,700.7 775.8,701.3 776.1,700.1 776.4,700.5 776.7,700.9 777.0,700.4 777.4,700.8 777.7,700.4 778.0,702.8 778.3,702.2 778.6,701.4 778.9,700.9 779.2,703.0 779.5,701.2 779.9,700.8 780.2,701.2 780.5,701.2 780.8,702.2 781.1,700.9 781.4,702.9 781.7,700.1 782.0,701.6 782.4,699.9 782.7,702.6 783.0,700.6 783.3,700.8 783.6,701.8 783.9,702.1 784.2,699.8 784.6,700.5 784.9,699.5 785.2,701.0 785.5,700.7 785.8,700.5 786.1,700.2 786.4,700.5 786.7,700.1 787.1,701.3 787.4,702.2 787.7,699.0 788.0,700.7 788.3,700.4 788.6,701.2 788.9,699.9 789.3,700.6 789.6,699.8 789.9,701.4 790.2,700.8 790.5,700.6 790.8,701.1 791.1,700.5 791.4,699.2 791.8,701.3 792.1,701.0 792.4,700.5 792.7,701.6 793.0,701.8 793.3,699.6 793.6,699.9 794.0,702.1 794.3,702.0 794.6,699.9 794.9,699.5 795.2,700.0 795.5,700.1 795.8,699.1 796.1,700.6 796.5,699.4 796.8,699.4 797.1,701.4 797.4,699.9 797.7,700.5 798.0,701.1 798.3,701.3 798.6,700.2 799.0,700.5 799.3,699.7 799.6,702.1 799.9,701.1 800.2,699.4 800.5,700.4 800.8,701.1 801.2,700.9 801.5,702.1 801.8,701.7 802.1,699.9 802.4,700.3 802.7,699.2 803.0,700.6 803.3,700.5 803.7,702.9 804.0,700.4 804.3,698.3 804.6,699.7 804.9,700.4 805.2,699.1 805.5,699.5 805.9,699.9 806.2,700.6 806.5,700.1 806.8,699.4 807.1,701.0 807.4,699.7 807.7,699.7 808.0,698.9 808.4,699.4 808.7,700.8 809.0,698.6 809.3,700.1 809.6,700.8 809.9,699.8 810.2,700.4 810.5,699.1 810.9,701.3 811.2,701.1 811.5,700.3 811.8,698.4 812.1,699.1 812.4,701.0 812.7,701.7 813.1,700.3 813.4,701.2 813.7,699.4 814.0,699.8 814.3,700.0 814.6,700.4 814.9,698.5 815.2,700.9 815.6,701.2 815.9,698.9 816.2,698.6 816.5,700.3 816.8,699.3 817.1,697.7 817.4,700.7 817.8,700.0 818.1,699.4 818.4,701.9 818.7,700.0 819.0,699.1 819.3,699.9 819.6,698.8 819.9,699.1 820.3,700.2 820.6,699.3 820.9,699.4 821.2,701.4 821.5,700.6 821.8,700.5 822.1,700.3 822.5,700.2 822.8,701.1 823.1,699.7 823.4,701.5 823.7,698.8 824.0,699.5 824.3,698.4 824.6,699.4 825.0,700.2 825.3,701.1 825.6,699.1 825.9,699.7 826.2,699.3 826.5,699.0 826.8,698.5 827.1,699.7 827.5,698.0 827.8,699.7 828.1,699.6 828.4,699.0 828.7,698.6 829.0,698.3 829.3,701.3 829.7,698.3 830.0,701.0 830.3,700.1 830.6,699.2 830.9,698.4 831.2,700.5 831.5,701.1 831.8,698.6 832.2,699.2 832.5,700.5 832.8,699.8 833.1,701.4 833.4,698.9 833.7,699.9 834.0,698.2 834.4,701.4 834.7,698.7 835.0,697.3 835.3,699.3 835.6,699.2 835.9,701.2 836.2,699.0 836.5,699.3 836.9,699.9 837.2,700.8 837.5,699.2 837.8,700.3 838.1,699.8 838.4,699.0 838.7,699.3 839.1,699.3 839.4,698.4 839.7,700.4 840.0,697.9 840.3,700.3 840.6,700.1 840.9,699.1 841.2,698.5 841.6,699.0 841.9,699.6 842.2,699.9 842.5,699.4 842.8,700.1 843.1,698.6 843.4,699.3 843.7,697.6 844.1,699.8 844.4,699.2 844.7,698.7 845.0,700.2 845.3,699.7 845.6,696.4 845.9,699.1 846.3,697.6 846.6,700.0 846.9,701.4 847.2,698.5 847.5,699.1 847.8,698.7 848.1,699.3 848.4,699.6 848.8,700.2 849.1,698.0 849.4,700.4 849.7,698.0 850.0,699.2 850.3,700.0 850.6,699.6 851.0,698.0 851.3,698.2 851.6,698.4 851.9,698.8 852.2,699.9 852.5,697.6 852.8,699.3 853.1,699.4 853.5,699.4 853.8,699.3 854.1,700.2 854.4,699.3 854.7,699.6 855.0,699.3 855.3,700.5 855.7,697.0 856.0,700.0 856.3,698.5 856.6,698.5 856.9,697.8 857.2,697.0 857.5,698.4 857.8,698.1 858.2,699.2 858.5,697.3 858.8,700.1 859.1,699.0 859.4,698.5 859.7,698.0 860.0,697.9 860.3,697.6 860.7,698.2 861.0,698.7 861.3,698.5 861.6,697.3 861.9,698.4 862.2,697.8 862.5,698.8 862.9,700.4 863.2,699.2 863.5,698.3 863.8,697.1 864.1,697.3 864.4,697.0 864.7,699.3 865.0,697.9 865.4,698.7 865.7,698.0 866.0,698.7 866.3,699.9 866.6,698.0 866.9,698.3 867.2,697.8 867.6,699.4 867.9,697.6 868.2,697.5 868.5,697.3 868.8,697.3 869.1,699.1 869.4,701.0 869.7,697.7 870.1,699.5 870.4,698.8 870.7,697.6 871.0,698.3 871.3,698.4 871.6,698.0 871.9,700.5 872.3,696.8 872.6,699.0 872.9,698.9 873.2,698.1 873.5,698.8 873.8,699.5 874.1,698.8 874.4,699.0 874.8,699.3 875.1,696.7 875.4,700.1 875.7,700.8 876.0,699.6 876.3,699.6 876.6,697.3 876.9,698.6 877.3,697.9 877.6,698.1 877.9,699.6 878.2,697.9 878.5,698.6 878.8,696.9 879.1,698.6 879.5,698.8 879.8,698.1 880.1,698.1 880.4,700.6 880.7,697.6 881.0,697.8 881.3,698.0 881.6,699.9 882.0,700.8 882.3,699.1 882.6,698.1 882.9,698.4 883.2,699.8 883.5,698.0 883.8,700.2 884.2,700.2 884.5,698.9 884.8,699.5 885.1,699.6 885.4,700.4 885.7,697.9 886.0,700.1 886.3,698.6 886.7,698.2 887.0,699.1 887.3,698.8 887.6,698.1 887.9,697.5 888.2,698.1 888.5,700.4 888.8,700.9 889.2,699.7 889.5,700.2 889.8,698.6 890.1,699.0 890.4,699.4 890.7,698.1 891.0,698.2 891.4,699.2 891.7,698.9 892.0,698.2 892.3,699.6 892.6,698.9 892.9,700.2 893.2,699.2 893.5,699.0 893.9,699.4 894.2,699.1 894.5,698.7 894.8,698.9 895.1,700.0 895.4,699.9 895.7,700.6 896.1,697.8 896.4,699.0 896.7,699.0 897.0,699.6 897.3,699.0 897.6,699.0 897.9,700.2 898.2,699.6 898.6,698.4 898.9,700.8 899.2,700.5 899.5,699.0" stroke="#70AD47" stroke-width="10.4"/><circle cx="899.5" cy="699.0" r="5.20" fill="#70AD47"/>
<path d="M178.7,722.3 178.8,-123.0 178.9,-93.4 179.5,395.4 180.1,519.3 180.6,575.4 181.0,601.4 181.4,618.9 181.8,631.6 182.2,639.6 182.5,642.6 182.8,650.6 183.2,651.8 183.5,656.3 183.8,659.0 184.1,659.7 184.5,660.3 184.8,661.3 185.1,661.9 185.4,662.0 185.7,662.4 186.0,662.3 186.3,664.5 186.7,663.5 187.0,664.5 187.3,663.4 187.6,663.8 187.9,663.6 188.2,664.3 188.5,664.8 188.8,664.3 189.2,663.5 189.5,663.5 189.8,665.9 190.1,664.2 190.4,664.3 190.7,666.1 191.0,665.8 191.4,665.4 191.7,664.6 192.0,667.3 192.3,665.5 192.6,665.8 192.9,665.2 193.2,664.1 193.5,664.3 193.9,666.0 194.2,666.1 194.5,665.6 194.8,664.8 195.1,664.6 195.4,665.7 195.7,664.7 196.1,667.1 196.4,667.4 196.7,669.0 197.0,667.2 197.3,665.9 197.6,665.7 197.9,663.3 198.2,666.1 198.6,666.5 198.9,667.7 199.2,667.4 199.5,667.4 199.8,667.1 200.1,667.6 200.4,668.4 200.7,666.0 201.1,666.7 201.4,665.8 201.7,668.7 202.0,668.5 202.3,668.0 202.6,666.2 202.9,667.5 203.3,667.2 203.6,667.5 203.9,667.3 204.2,668.0 204.5,667.2 204.8,668.4 205.1,667.9 205.4,667.4 205.8,667.6 206.1,667.4 206.4,668.6 206.7,667.6 207.0,668.2 207.3,667.6 207.6,666.6 208.0,668.9 208.3,667.1 208.6,668.8 208.9,668.6 209.2,666.7 209.5,667.4 209.8,667.9 210.1,667.6 210.5,667.3 210.8,669.2 211.1,668.4 211.4,669.0 211.7,668.3 212.0,669.1 212.3,668.1 212.7,668.9 213.0,669.6 213.3,669.2 213.6,668.8 213.9,668.3 214.2,669.6 214.5,669.8 214.8,669.4 215.2,669.0 215.5,670.3 215.8,672.3 216.1,669.7 216.4,670.5 216.7,670.6 217.0,667.9 217.3,670.5 217.7,669.9 218.0,671.9 218.3,670.5 218.6,670.0 218.9,670.6 219.2,671.1 219.5,670.4 219.9,671.0 220.2,669.8 220.5,670.9 220.8,671.9 221.1,673.1 221.4,671.9 221.7,671.5 222.0,672.5 222.4,672.3 222.7,673.0 223.0,672.5 223.3,671.4 223.6,671.8 223.9,671.8 224.2,671.9 224.6,671.9 224.9,671.0 225.2,669.7 225.5,671.1 225.8,669.9 226.1,671.9 226.4,671.9 226.7,670.3 227.1,672.6 227.4,672.8 227.7,672.1 228.0,673.7 228.3,673.9 228.6,671.0 228.9,673.2 229.3,672.6 229.6,672.7 229.9,673.2 230.2,671.6 230.5,671.8 230.8,671.6 231.1,671.7 231.4,672.4 231.8,671.1 232.1,671.5 232.4,673.1 232.7,672.5 233.0,673.0 233.3,670.8 233.6,671.9 233.9,672.2 234.3,672.8 234.6,672.2 234.9,673.7 235.2,672.8 235.5,672.8 235.8,672.9 236.1,673.6 236.5,672.5 236.8,674.0 237.1,673.4 237.4,673.1 237.7,673.0 238.0,673.5 238.3,674.0 238.6,674.0 239.0,673.5 239.3,674.0 239.6,673.3 239.9,674.4 240.2,673.2 240.5,671.2 240.8,674.5 241.2,673.3 241.5,672.1 241.8,673.1 242.1,672.5 242.4,675.3 242.7,673.8 243.0,671.9 243.3,673.9 243.7,673.0 244.0,675.2 244.3,672.4 244.6,671.3 244.9,673.5 245.2,673.1 245.5,673.1 245.9,671.4 246.2,673.9 246.5,675.1 246.8,671.7 247.1,674.6 247.4,673.0 247.7,675.8 248.0,674.0 248.4,673.4 248.7,674.6 249.0,674.1 249.3,673.0 249.6,674.3 249.9,673.1 250.2,671.9 250.5,675.5 250.9,673.3 251.2,673.0 251.5,674.0 251.8,672.2 252.1,672.4 252.4,673.2 252.7,673.2 253.1,673.7 253.4,674.7 253.7,673.2 254.0,674.2 254.3,674.3 254.6,672.7 254.9,673.9 255.2,672.8 255.6,674.7 255.9,674.2 256.2,673.7 256.5,672.5 256.8,673.9 257.1,673.0 257.4,674.4 257.8,673.6 258.1,673.0 258.4,674.6 258.7,674.5 259.0,673.2 259.3,674.9 259.6,673.5 259.9,673.5 260.3,673.9 260.6,673.1 260.9,673.4 261.2,673.7 261.5,675.3 261.8,675.3 262.1,673.6 262.4,675.4 262.8,673.8 263.1,674.2 263.4,674.7 263.7,674.1 264.0,676.2 264.3,674.1 264.6,672.7 265.0,675.1 265.3,673.5 265.6,673.6 265.9,671.0 266.2,674.8 266.5,674.7 266.8,674.7 267.1,674.8 267.5,675.5 267.8,673.9 268.1,674.8 268.4,673.2 268.7,673.6 269.0,674.9 269.3,674.3 269.7,672.7 270.0,674.3 270.3,673.8 270.6,673.2 270.9,674.4 271.2,673.6 271.5,672.5 271.8,672.9 272.2,675.7 272.5,672.5 272.8,674.2 273.1,674.6 273.4,674.6 273.7,672.8 274.0,673.7 274.4,674.1 274.7,674.8 275.0,673.4 275.3,672.9 275.6,675.0 275.9,675.1 276.2,674.4 276.5,673.4 276.9,674.4 277.2,674.1 277.5,674.8 277.8,672.8 278.1,674.1 278.4,673.9 278.7,673.0 279.0,674.2 279.4,674.1 279.7,673.6 280.0,674.4 280.3,672.7 280.6,674.0 280.9,674.5 281.2,674.3 281.6,675.1 281.9,672.9 282.2,672.6 282.5,674.3 282.8,674.5 283.1,676.1 283.4,674.6 283.7,673.2 284.1,674.8 284.4,673.3 284.7,672.7 285.0,676.5 285.3,674.4 285.6,674.7 285.9,674.6 286.3,675.8 286.6,674.3 286.9,675.2 287.2,673.1 287.5,672.7 287.8,675.4 288.1,675.5 288.4,674.6 288.8,674.3 289.1,674.2 289.4,673.4 289.7,675.5 290.0,674.7 290.3,674.6 290.6,674.4 291.0,675.1 291.3,674.6 291.6,674.8 291.9,673.0 292.2,674.6 292.5,676.1 292.8,673.6 293.1,673.9 293.5,674.9 293.8,675.0 294.1,674.7 294.4,672.5 294.7,674.5 295.0,672.9 295.3,673.3 295.6,674.6 296.0,673.8 296.3,674.8 296.6,677.1 296.9,674.8 297.2,674.8 297.5,673.2 297.8,673.5 298.2,673.1 298.5,673.6 298.8,673.0 299.1,673.4 299.4,673.9 299.7,673.1 300.0,672.7 300.3,672.8 300.7,674.5 301.0,674.1 301.3,675.0 301.6,675.0 301.9,673.7 302.2,674.7 302.5,672.7 302.9,676.2 303.2,675.2 303.5,673.8 303.8,672.9 304.1,674.4 304.4,672.3 304.7,673.3 305.0,674.8 305.4,674.1 305.7,673.6 306.0,674.9 306.3,673.1 306.6,674.3 306.9,673.6 307.2,673.2 307.6,674.5 307.9,673.1 308.2,675.8 308.5,673.5 308.8,675.9 309.1,673.0 309.4,674.6 309.7,672.9 310.1,672.8 310.4,674.2 310.7,674.7 311.0,672.8 311.3,675.1 311.6,673.3 311.9,674.1 312.2,674.4 312.6,674.6 312.9,672.3 313.2,675.5 313.5,674.5 313.8,673.6 314.1,673.0 314.4,672.4 314.8,672.7 315.1,674.5 315.4,673.7 315.7,672.9 316.0,673.5 316.3,675.5 316.6,673.7 316.9,673.4 317.3,675.3 317.6,674.4 317.9,674.0 318.2,673.4 318.5,672.5 318.8,672.9 319.1,673.5 319.5,673.8 319.8,674.3 320.1,674.5 320.4,674.2 320.7,674.2 321.0,673.0 321.3,671.9 321.6,673.5 322.0,673.1 322.3,673.3 322.6,673.7 322.9,672.8 323.2,672.9 323.5,673.9 323.8,674.1 324.2,673.3 324.5,674.4 324.8,673.7 325.1,673.0 325.4,674.0 325.7,675.7 326.0,673.3 326.3,675.0 326.7,675.2 327.0,675.4 327.3,673.2 327.6,675.8 327.9,674.0 328.2,673.7 328.5,673.7 328.8,674.5 329.2,674.0 329.5,673.7 329.8,675.1 330.1,673.2 330.4,672.9 330.7,674.7 331.0,674.6 331.4,674.9 331.7,672.9 332.0,674.9 332.3,674.4 332.6,675.6 332.9,672.7 333.2,674.1 333.5,673.6 333.9,672.4 334.2,673.2 334.5,675.0 334.8,673.4 335.1,673.2 335.4,674.7 335.7,674.8 336.1,674.8 336.4,673.1 336.7,673.8 337.0,674.8 337.3,673.2 337.6,673.1 337.9,674.6 338.2,675.3 338.6,672.8 338.9,671.4 339.2,672.5 339.5,672.9 339.8,673.7 340.1,674.4 340.4,673.7 340.7,673.2 341.1,674.0 341.4,672.9 341.7,673.8 342.0,673.2 342.3,676.4 342.6,674.6 342.9,673.0 343.3,672.9 343.6,673.4 343.9,672.2 344.2,673.1 344.5,673.1 344.8,674.6 345.1,673.4 345.4,673.0 345.8,672.5 346.1,672.7 346.4,673.7 346.7,673.6 347.0,674.9 347.3,673.2 347.6,674.8 348.0,674.0 348.3,673.8 348.6,671.9 348.9,672.5 349.2,674.5 349.5,675.1 349.8,674.0 350.1,674.5 350.5,673.4 350.8,673.4 351.1,673.1 351.4,674.7 351.7,674.1 352.0,673.5 352.3,673.4 352.7,674.3 353.0,674.0 353.3,672.9 353.6,675.4 353.9,674.0 354.2,673.7 354.5,675.1 354.8,674.7 355.2,673.6 355.5,674.2 355.8,672.7 356.1,673.1 356.4,671.6 356.7,674.9 357.0,671.9 357.3,674.3 357.7,672.9 358.0,672.8 358.3,673.5 358.6,673.9 358.9,674.3 359.2,675.4 359.5,674.0 359.9,674.5 360.2,673.1 360.5,674.3 360.8,673.8 361.1,673.2 361.4,673.6 361.7,673.6 362.0,673.8 362.4,674.0 362.7,673.2 363.0,672.9 363.3,674.4 363.6,672.0 363.9,673.1 364.2,675.1 364.6,671.1 364.9,673.0 365.2,674.3 365.5,672.1 365.8,676.1 366.1,671.2 366.4,675.0 366.7,675.1 367.1,674.5 367.4,673.4 367.7,673.9 368.0,672.8 368.3,674.4 368.6,672.5 368.9,673.3 369.3,674.5 369.6,672.5 369.9,673.2 370.2,673.7 370.5,672.3 370.8,674.7 371.1,673.9 371.4,672.1 371.8,673.5 372.1,672.8 372.4,672.9 372.7,673.6 373.0,672.9 373.3,674.5 373.6,672.9 373.9,674.5 374.3,673.5 374.6,674.3 374.9,673.0 375.2,673.0 375.5,672.4 375.8,674.1 376.1,674.4 376.5,675.5 376.8,674.7 377.1,673.7 377.4,673.3 377.7,673.9 378.0,673.5 378.3,674.9 378.6,674.4 379.0,672.7 379.3,672.8 379.6,674.8 379.9,673.8 380.2,673.2 380.5,674.6 380.8,673.1 381.2,673.2 381.5,673.0 381.8,671.6 382.1,674.3 382.4,672.3 382.7,672.9 383.0,672.7 383.3,674.1 383.7,673.4 384.0,673.4 384.3,671.8 384.6,673.3 384.9,672.0 385.2,673.7 385.5,673.7 385.9,673.4 386.2,675.3 386.5,673.9 386.8,673.9 387.1,673.5 387.4,673.2 387.7,674.3 388.0,674.4 388.4,672.1 388.7,674.3 389.0,673.8 389.3,674.2 389.6,673.8 389.9,672.1 390.2,672.2 390.5,675.0 390.9,673.5 391.2,672.0 391.5,673.6 391.8,673.0 392.1,671.5 392.4,671.1 392.7,671.8 393.1,673.5 393.4,673.2 393.7,673.0 394.0,673.5 394.3,673.8 394.6,671.3 394.9,673.0 395.2,672.5 395.6,672.1 395.9,672.7 396.2,673.1 396.5,673.0 396.8,671.8 397.1,672.7 397.4,675.1 397.8,672.2 398.1,671.6 398.4,673.4 398.7,673.7 399.0,673.6 399.3,672.1 399.6,674.1 399.9,672.4 400.3,672.1 400.6,672.6 400.9,673.0 401.2,673.8 401.5,673.7 401.8,673.1 402.1,674.0 402.5,673.2 402.8,674.0 403.1,671.8 403.4,671.6 403.7,673.8 404.0,671.8 404.3,672.8 404.6,673.0 405.0,672.6 405.3,672.6 405.6,674.4 405.9,670.7 406.2,673.9 406.5,675.2 406.8,673.1 407.1,673.0 407.5,673.7 407.8,674.8 408.1,671.9 408.4,673.1 408.7,672.8 409.0,673.5 409.3,673.2 409.7,673.6 410.0,672.6 410.3,673.0 410.6,672.3 410.9,672.3 411.2,672.8 411.5,672.8 411.8,671.8 412.2,674.4 412.5,672.8 412.8,671.6 413.1,674.0 413.4,672.2 413.7,673.4 414.0,672.9 414.4,673.2 414.7,673.1 415.0,672.4 415.3,672.9 415.6,674.8 415.9,670.8 416.2,672.9 416.5,673.3 416.9,671.9 417.2,671.6 417.5,674.9 417.8,672.5 418.1,674.8 418.4,673.4 418.7,672.9 419.0,673.3 419.4,673.4 419.7,673.9 420.0,673.2 420.3,673.0 420.6,673.0 420.9,674.1 421.2,673.6 421.6,671.8 421.9,672.2 422.2,673.1 422.5,672.2 422.8,672.4 423.1,671.9 423.4,672.5 423.7,673.2 424.1,673.7 424.4,672.8 424.7,674.7 425.0,672.7 425.3,675.8 425.6,673.7 425.9,673.2 426.3,672.3 426.6,670.0 426.9,672.6 427.2,672.9 427.5,674.5 427.8,671.4 428.1,674.5 428.4,672.5 428.8,673.4 429.1,670.3 429.4,672.8 429.7,672.4 430.0,673.3 430.3,672.8 430.6,671.6 431.0,673.6 431.3,673.3 431.6,673.2 431.9,673.6 432.2,673.7 432.5,672.6 432.8,671.3 433.1,671.3 433.5,673.9 433.8,673.3 434.1,672.7 434.4,672.2 434.7,672.6 435.0,672.6 435.3,672.3 435.6,671.9 436.0,674.7 436.3,672.8 436.6,672.0 436.9,671.3 437.2,671.9 437.5,673.3 437.8,673.3 438.2,672.4 438.5,672.6 438.8,672.3 439.1,671.5 439.4,673.8 439.7,672.9 440.0,674.9 440.3,671.8 440.7,672.4 441.0,673.4 441.3,672.3 441.6,671.2 441.9,671.6 442.2,672.6 442.5,672.8 442.9,672.4 443.2,673.5 443.5,673.4 443.8,672.8 444.1,672.5 444.4,672.2 444.7,673.0 445.0,673.4 445.4,672.5 445.7,672.9 446.0,672.2 446.3,671.1 446.6,671.5 446.9,673.2 447.2,672.9 447.6,674.0 447.9,672.5 448.2,673.3 448.5,673.7 448.8,673.4 449.1,671.9 449.4,672.3 449.7,672.5 450.1,671.5 450.4,672.9 450.7,673.4 451.0,671.9 451.3,674.3 451.6,672.1 451.9,672.2 452.2,672.2 452.6,671.7 452.9,672.8 453.2,672.4 453.5,674.0 453.8,672.9 454.1,672.9 454.4,672.2 454.8,671.0 455.1,672.3 455.4,671.5 455.7,673.3 456.0,672.3 456.3,673.9 456.6,673.0 456.9,673.1 457.3,672.5 457.6,672.5 457.9,672.9 458.2,673.2 458.5,671.6 458.8,672.8 459.1,674.8 459.5,672.2 459.8,672.1 460.1,671.6 460.4,670.9 460.7,673.4 461.0,672.3 461.3,672.6 461.6,674.0 462.0,674.7 462.3,671.4 462.6,673.3 462.9,672.9 463.2,672.6 463.5,672.7 463.8,672.2 464.2,673.8 464.5,672.8 464.8,672.6 465.1,673.4 465.4,673.1 465.7,672.7 466.0,672.5 466.3,673.9 466.7,672.7 467.0,672.1 467.3,671.4 467.6,671.9 467.9,671.2 468.2,672.3 468.5,672.4 468.8,670.2 469.2,672.2 469.5,672.8 469.8,672.3 470.1,671.3 470.4,673.4 470.7,671.5 471.0,671.0 471.4,671.1 471.7,672.1 472.0,673.1 472.3,673.3 472.6,672.4 472.9,671.0 473.2,671.5 473.5,671.3 473.9,672.0 474.2,670.4 474.5,672.2 474.8,672.7 475.1,672.0 475.4,672.6 475.7,671.2 476.1,670.7 476.4,671.5 476.7,673.2 477.0,673.1 477.3,671.7 477.6,673.2 477.9,671.8 478.2,673.5 478.6,672.5 478.9,671.7 479.2,672.8 479.5,671.3 479.8,671.2 480.1,670.7 480.4,672.3 480.8,672.0 481.1,672.0 481.4,671.7 481.7,673.4 482.0,671.6 482.3,671.4 482.6,673.2 482.9,673.4 483.3,672.4 483.6,670.4 483.9,671.5 484.2,672.6 484.5,672.0 484.8,673.5 485.1,670.7 485.4,672.7 485.8,671.4 486.1,673.3 486.4,671.9 486.7,673.0 487.0,671.4 487.3,670.6 487.6,670.9 488.0,671.4 488.3,671.0 488.6,673.1 488.9,673.2 489.2,672.2" stroke="#5B9BD5" stroke-width="10.4"/><circle cx="489.2" cy="672.2" r="5.20" fill="#5B9BD5"/>
<path d="M178.7,722.4 178.8,-123.3 178.9,-65.7 179.5,421.0 180.1,491.5 180.6,527.4 181.0,545.4 181.4,543.3 181.8,538.3 182.2,537.8 182.5,537.1 182.8,537.1 183.2,538.5 183.5,541.3 183.8,540.7 184.1,542.2 184.5,544.3 184.8,545.5 185.1,547.1 185.4,549.3 185.7,551.6 186.0,550.1 186.3,552.7 186.7,554.0 187.0,555.1 187.3,556.1 187.6,557.1 187.9,559.2 188.2,559.1 188.5,560.3 188.8,561.4 189.2,562.4 189.5,563.1 189.8,564.9 190.1,565.0 190.4,565.9 190.7,566.6 191.0,566.6 191.4,567.5 191.7,568.1 192.0,569.8 192.3,569.8 192.6,570.2 192.9,571.9 193.2,572.8 193.5,571.7 193.9,575.1 194.2,574.4 194.5,574.9 194.8,576.4 195.1,576.2 195.4,576.2 195.7,579.0 196.1,577.0 196.4,578.3 196.7,579.6 197.0,578.6 197.3,579.9 197.6,580.9 197.9,583.0 198.2,580.9 198.6,582.1 198.9,583.2 199.2,583.2 199.5,582.7 199.8,584.5 200.1,584.8 200.4,585.5 200.7,586.6 201.1,587.0 201.4,587.0 201.7,587.4 202.0,586.7 202.3,588.0 202.6,588.7 202.9,588.7 203.3,589.5 203.6,589.3 203.9,591.6 204.2,592.5 204.5,590.9 204.8,592.0 205.1,591.9 205.4,593.5 205.8,593.3 206.1,593.4 206.4,593.6 206.7,594.2 207.0,593.7 207.3,595.4 207.6,594.7 208.0,596.0 208.3,596.1 208.6,597.2 208.9,596.6 209.2,597.8 209.5,596.6 209.8,598.2 210.1,597.8 210.5,598.5 210.8,598.7 211.1,599.8 211.4,597.7 211.7,599.9 212.0,598.8 212.3,601.2 212.7,599.0 213.0,600.1 213.3,599.9 213.6,602.8 213.9,600.8 214.2,602.2 214.5,602.0 214.8,601.3 215.2,602.7 215.5,603.8 215.8,603.4 216.1,604.6 216.4,603.9 216.7,604.4 217.0,604.4 217.3,605.3 217.7,606.8 218.0,605.8 218.3,606.0 218.6,605.6 218.9,605.7 219.2,607.8 219.5,606.0 219.9,606.4 220.2,607.3 220.5,607.3 220.8,609.4 221.1,606.2 221.4,608.7 221.7,609.2 222.0,608.0 222.4,608.6 222.7,609.7 223.0,610.9 223.3,609.1 223.6,608.8 223.9,611.1 224.2,611.7 224.6,610.5 224.9,609.2 225.2,612.4 225.5,611.3 225.8,612.5 226.1,611.8 226.4,611.8 226.7,611.9 227.1,613.7 227.4,613.9 227.7,611.2 228.0,612.4 228.3,614.8 228.6,613.2 228.9,612.6 229.3,613.9 229.6,614.0 229.9,614.2 230.2,614.1 230.5,614.4 230.8,614.5 231.1,615.3 231.4,614.6 231.8,615.2 232.1,615.5 232.4,616.8 232.7,616.3 233.0,616.1 233.3,616.7 233.6,616.8 233.9,617.5 234.3,617.2 234.6,618.4 234.9,618.2 235.2,617.3 235.5,617.1 235.8,618.3 236.1,618.2 236.5,617.9 236.8,616.9 237.1,616.8 237.4,618.7 237.7,619.2 238.0,619.4 238.3,617.8 238.6,619.8 239.0,618.7 239.3,619.6 239.6,619.8 239.9,618.9 240.2,619.3 240.5,618.2 240.8,619.3 241.2,618.7 241.5,620.6 241.8,620.5 242.1,621.3 242.4,621.0 242.7,620.3 243.0,621.2 243.3,620.7 243.7,621.7 244.0,621.6 244.3,620.7 244.6,621.6 244.9,621.7 245.2,621.6 245.5,622.7 245.9,623.4 246.2,621.9 246.5,622.0 246.8,620.6 247.1,622.4 247.4,622.3 247.7,621.0 248.0,623.1 248.4,623.5 248.7,622.5 249.0,622.9 249.3,622.6 249.6,624.1 249.9,622.4 250.2,623.4 250.5,625.4 250.9,624.0 251.2,624.4 251.5,624.0 251.8,623.3 252.1,624.3 252.4,624.8 252.7,623.7 253.1,624.9 253.4,625.7 253.7,625.7 254.0,623.7 254.3,624.3 254.6,623.8 254.9,626.1 255.2,625.8 255.6,626.0 255.9,624.8 256.2,624.7 256.5,625.7 256.8,625.9 257.1,625.2 257.4,626.1 257.8,626.5 258.1,626.3 258.4,625.4 258.7,624.6 259.0,626.2 259.3,626.6 259.6,626.3 259.9,626.3 260.3,626.1 260.6,627.3 260.9,626.8 261.2,627.0 261.5,626.2 261.8,626.6 262.1,627.3 262.4,626.4 262.8,626.3 263.1,627.1 263.4,628.4 263.7,627.7 264.0,628.8 264.3,627.6 264.6,627.5 265.0,626.7 265.3,627.4 265.6,629.1 265.9,628.3 266.2,628.7 266.5,628.8 266.8,628.3 267.1,628.2 267.5,628.5 267.8,629.0 268.1,628.9 268.4,629.0 268.7,628.8 269.0,628.2 269.3,628.6 269.7,628.2 270.0,629.8 270.3,627.4 270.6,629.0 270.9,631.1 271.2,629.0 271.5,628.5 271.8,629.4 272.2,630.6 272.5,629.5 272.8,630.2 273.1,629.8 273.4,629.5 273.7,632.4 274.0,630.0 274.4,629.6 274.7,629.8 275.0,630.5 275.3,630.6 275.6,631.0 275.9,630.6 276.2,629.4 276.5,631.0 276.9,630.4 277.2,630.5 277.5,629.6 277.8,630.4 278.1,630.4 278.4,631.0 278.7,629.9 279.0,631.2 279.4,631.3 279.7,630.4 280.0,630.9 280.3,630.8 280.6,632.2 280.9,629.6 281.2,631.4 281.6,630.4 281.9,631.4 282.2,632.5 282.5,631.4 282.8,632.1 283.1,631.4 283.4,633.7 283.7,632.9 284.1,633.1 284.4,631.2 284.7,631.5 285.0,633.3 285.3,632.3 285.6,632.3 285.9,632.9 286.3,631.7 286.6,633.4 286.9,632.8 287.2,633.2 287.5,632.4 287.8,633.4 288.1,632.5 288.4,633.9 288.8,634.0 289.1,633.9 289.4,633.7 289.7,633.8 290.0,631.2 290.3,634.1 290.6,633.3 291.0,633.6 291.3,633.4 291.6,632.5 291.9,633.3 292.2,634.3 292.5,634.9 292.8,633.4 293.1,633.2 293.5,635.1 293.8,633.3 294.1,635.7 294.4,634.2 294.7,633.5 295.0,635.0 295.3,635.6 295.6,633.2 296.0,635.6 296.3,634.2 296.6,635.7 296.9,634.2 297.2,633.3 297.5,635.0 297.8,635.4 298.2,636.4 298.5,636.1 298.8,635.4 299.1,634.7 299.4,634.5 299.7,634.7 300.0,634.3 300.3,634.8 300.7,633.0 301.0,635.3 301.3,635.1 301.6,637.3 301.9,635.9 302.2,634.9 302.5,635.8 302.9,634.4 303.2,634.9 303.5,634.0 303.8,636.6 304.1,636.0 304.4,634.6 304.7,635.6 305.0,636.4 305.4,636.1 305.7,636.0 306.0,635.1 306.3,635.3 306.6,635.9 306.9,636.6 307.2,635.3 307.6,635.1 307.9,636.9 308.2,635.3 308.5,637.0 308.8,636.3 309.1,636.9 309.4,637.6 309.7,636.8 310.1,636.9 310.4,635.6 310.7,635.8 311.0,636.9 311.3,637.7 311.6,637.6 311.9,638.3 312.2,636.8 312.6,636.7 312.9,637.4 313.2,636.6 313.5,636.6 313.8,635.9" stroke="#ED7D31" stroke-width="10.8"/><circle cx="313.8" cy="635.9" r="5.40" fill="#ED7D31"/>
<path d="M178.7,722.3 178.8,-123.2 178.9,-119.1 179.5,52.7 180.1,372.6 180.6,435.2 181.0,438.5 181.4,441.3 181.8,444.7 182.2,446.3 182.5,449.0 182.8,450.9 183.2,452.1 183.5,455.3 183.8,457.4 184.1,458.7 184.5,461.3 184.8,462.5 185.1,464.2 185.4,466.4 185.7,467.7 186.0,470.7 186.3,470.6 186.7,473.1 187.0,474.7 187.3,474.8 187.6,476.4 187.9,478.8 188.2,479.6 188.5,481.3 188.8,482.9 189.2,483.5 189.5,484.4 189.8,484.8 190.1,487.3 190.4,487.9 190.7,489.5 191.0,490.6 191.4,490.9 191.7,493.3 192.0,494.0 192.3,494.9 192.6,495.0 192.9,496.3 193.2,497.2 193.5,498.1 193.9,498.7 194.2,500.3 194.5,501.1 194.8,502.0 195.1,502.5 195.4,504.1 195.7,504.4 196.1,503.9 196.4,505.7 196.7,506.7 197.0,508.0 197.3,508.2 197.6,508.9 197.9,509.5 198.2,510.8 198.6,511.1 198.9,511.7 199.2,512.4 199.5,513.7 199.8,513.9 200.1,514.1 200.4,515.8 200.7,515.9 201.1,517.0 201.4,517.7 201.7,518.7 202.0,519.3 202.3,519.2 202.6,520.1 202.9,520.2 203.3,522.2 203.6,522.2 203.9,523.3 204.2,523.1 204.5,523.0 204.8,525.2 205.1,525.1 205.4,525.8 205.8,526.3 206.1,527.2 206.4,527.7 206.7,527.3 207.0,529.1 207.3,529.0 207.6,529.6 208.0,531.1 208.3,531.3 208.6,531.3 208.9,531.2 209.2,532.7 209.5,533.4 209.8,533.7 210.1,533.8 210.5,534.5 210.8,534.9 211.1,536.1 211.4,536.9 211.7,537.6 212.0,537.3 212.3,538.3 212.7,539.0 213.0,539.1 213.3,539.8 213.6,541.4 213.9,541.0 214.2,541.9 214.5,541.8 214.8,542.6 215.2,542.3 215.5,543.6 215.8,544.7 216.1,545.6 216.4,545.7 216.7,546.0 217.0,546.2 217.3,546.4 217.7,547.1 218.0,548.0 218.3,547.9 218.6,549.1 218.9,548.7 219.2,548.9 219.5,549.7 219.9,549.9 220.2,550.5 220.5,552.1 220.8,551.9 221.1,552.6 221.4,553.5 221.7,553.9 222.0,553.6 222.4,554.9 222.7,554.9 223.0,555.1 223.3,555.7 223.6,555.3 223.9,556.0 224.2,556.7 224.6,557.4 224.9,557.4 225.2,557.9 225.5,558.8 225.8,559.3 226.1,559.4 226.4,560.0 226.7,559.6 227.1,560.1 227.4,560.7 227.7,560.8 228.0,561.1 228.3,562.4 228.6,561.9 228.9,562.0 229.3,563.0 229.6,563.9 229.9,563.5 230.2,564.4 230.5,564.0 230.8,564.3 231.1,564.6 231.4,565.2 231.8,566.4 232.1,565.4 232.4,567.0 232.7,566.2 233.0,566.8 233.3,567.7 233.6,567.9 233.9,568.1 234.3,567.5 234.6,568.8 234.9,568.5 235.2,570.4 235.5,569.5 235.8,570.0 236.1,569.7 236.5,570.3 236.8,570.3 237.1,571.6 237.4,571.4 237.7,572.1 238.0,571.8 238.3,572.2 238.6,573.3 239.0,572.6 239.3,572.6 239.6,573.9 239.9,573.5 240.2,574.1 240.5,575.0 240.8,574.5 241.2,575.6 241.5,575.2 241.8,576.4 242.1,576.7 242.4,576.2 242.7,576.6 243.0,576.6 243.3,577.3 243.7,578.0 244.0,577.2 244.3,578.5 244.6,577.8 244.9,578.3 245.2,578.1 245.5,580.2 245.9,579.5 246.2,579.9 246.5,579.7 246.8,580.8 247.1,579.6 247.4,580.9 247.7,582.1 248.0,581.2 248.4,581.6 248.7,582.2 249.0,581.8 249.3,582.4 249.6,583.1 249.9,583.0 250.2,583.4 250.5,583.3 250.9,583.8 251.2,583.9 251.5,584.7 251.8,584.6 252.1,584.3 252.4,583.5 252.7,585.1 253.1,585.3 253.4,584.6 253.7,584.3 254.0,584.8 254.3,585.8 254.6,585.0 254.9,585.4 255.2,585.8 255.6,586.3 255.9,585.9 256.2,585.9 256.5,585.8 256.8,586.8 257.1,586.6 257.4,586.2 257.8,585.6 258.1,586.0 258.4,586.6 258.7,586.1 259.0,586.9 259.3,586.7 259.6,586.7 259.9,587.0" stroke="#A5A5A5" stroke-width="10.4"/><circle cx="259.9" cy="587.0" r="5.20" fill="#A5A5A5"/>
<path d="M178.7,722.4 178.8,-123.2 178.9,-119.1 179.5,30.6 180.1,292.3 180.6,341.6 181.0,353.0 181.4,358.1 181.8,362.1 182.2,365.8 182.5,368.3 182.8,370.4 183.2,371.5 183.5,373.4 183.8,374.0 184.1,376.0 184.5,377.1 184.8,378.9 185.1,380.5 185.4,382.1 185.7,382.5 186.0,384.9 186.3,385.5 186.7,386.6 187.0,388.4 187.3,389.1 187.6,391.1 187.9,392.6 188.2,393.7 188.5,395.3 188.8,396.3 189.2,397.7 189.5,398.3 189.8,400.3 190.1,401.2 190.4,402.6 190.7,404.0 191.0,405.4 191.4,405.8 191.7,407.1 192.0,408.8 192.3,410.4 192.6,411.6 192.9,413.0 193.2,414.4 193.5,415.2 193.9,416.1 194.2,416.8 194.5,418.0 194.8,419.4 195.1,420.9 195.4,422.0 195.7,423.0 196.1,424.1 196.4,425.6 196.7,426.5 197.0,427.6 197.3,428.7 197.6,429.4 197.9,430.3 198.2,432.0 198.6,433.1 198.9,433.8 199.2,434.8 199.5,437.0 199.8,436.7 200.1,438.0 200.4,439.2 200.7,439.6 201.1,441.2 201.4,443.0 201.7,443.6 202.0,444.4 202.3,445.4 202.6,446.1 202.9,447.5 203.3,448.0 203.6,448.8 203.9,450.0 204.2,451.3 204.5,452.0 204.8,453.1 205.1,452.8 205.4,455.1 205.8,456.6 206.1,457.0 206.4,457.2 206.7,457.9 207.0,459.3 207.3,459.6 207.6,461.2 208.0,461.5 208.3,463.1 208.6,464.1 208.9,463.5 209.2,465.4 209.5,465.8 209.8,466.3 210.1,467.5 210.5,468.5 210.8,469.9 211.1,469.5 211.4,471.5 211.7,472.8 212.0,472.9 212.3,473.7 212.7,474.2 213.0,474.5 213.3,476.1 213.6,476.8 213.9,477.7 214.2,479.3 214.5,479.2 214.8,479.8 215.2,481.1 215.5,480.5 215.8,481.4 216.1,482.5 216.4,483.1 216.7,484.4 217.0,484.7 217.3,486.3 217.7,486.9 218.0,487.3 218.3,487.5 218.6,488.6 218.9,489.4 219.2,489.3 219.5,490.6 219.9,491.4 220.2,491.9 220.5,493.2 220.8,493.7 221.1,493.4 221.4,494.5 221.7,494.8 222.0,496.0 222.4,496.0 222.7,497.5 223.0,497.9 223.3,498.8 223.6,498.9 223.9,499.0 224.2,501.0 224.6,500.8 224.9,502.1 225.2,502.3 225.5,503.0 225.8,504.1 226.1,504.0 226.4,505.1 226.7,504.4 227.1,506.1 227.4,506.1 227.7,506.8 228.0,507.4 228.3,508.1 228.6,509.3 228.9,508.3 229.3,509.7 229.6,509.9 229.9,511.3 230.2,511.1 230.5,512.1 230.8,512.2 231.1,513.3 231.4,514.0 231.8,513.8 232.1,514.6 232.4,514.4 232.7,515.7 233.0,516.5 233.3,516.4 233.6,517.7 233.9,516.7" stroke="#FFC000" stroke-width="10.6"/><circle cx="233.9" cy="516.7" r="5.30" fill="#FFC000"/>
<path d="M180.0,722.4 180.0,-123.2 180.1,-117.5 180.2,-44.4 180.4,41.1 180.5,116.1 180.7,143.8 180.9,138.4 181.0,130.8 181.2,124.6 181.3,121.7 181.5,120.5 181.6,121.3 181.8,122.1 182.0,123.0 182.1,124.8 182.3,126.9 182.4,129.1 182.6,130.8 182.7,133.6 182.9,135.8 183.1,138.3 183.2,140.7 183.4,142.8 183.5,145.0 183.7,148.1 183.8,151.1 184.0,153.4 184.1,156.1 184.3,159.4 184.5,161.3 184.6,164.4 184.8,166.7 184.9,169.5 185.1,172.1 185.2,174.9 185.4,176.8 185.6,179.4 185.7,181.6 185.9,184.5 186.0,186.7 186.2,189.2 186.3,191.2 186.5,193.7 186.7,196.3 186.8,198.2 187.0,200.6 187.1,202.8 187.3,204.7 187.4,206.5 187.6,209.3 187.8,211.1 187.9,213.4 188.1,214.7 188.2,216.7 188.4,218.6 188.5,220.9 188.7,223.3 188.8,225.0 189.0,226.8 189.2,228.7 189.3,230.7 189.5,232.2 189.6,234.2 189.8,235.9 189.9,237.0 190.1,239.2 190.3,241.4 190.4,242.6 190.6,244.3 190.7,245.9 190.9,247.5 191.0,249.5 191.2,250.8 191.4,252.1 191.5,253.2 191.7,255.3 191.8,256.5 192.0,258.0 192.1,260.1 192.3,261.6 192.4,262.4 192.6,264.5 192.8,265.8 192.9,266.9 193.1,268.6 193.2,269.4 193.4,270.9 193.5,272.1 193.7,273.5 193.9,275.3 194.0,276.0 194.2,277.4 194.3,278.7 194.5,280.2 194.6,281.3 194.8,282.8 195.0,283.6 195.1,284.6 195.3,286.0 195.4,287.3 195.6,288.2 195.7,289.6 195.9,291.1 196.1,291.7 196.2,292.9 196.4,294.3 196.5,294.9 196.7,295.9 196.8,296.9 197.0,298.3 197.1,299.4 197.3,300.2 197.5,301.3 197.6,302.6 197.8,303.4 197.9,303.8 198.1,305.1 198.2,306.1 198.4,307.2 198.6,307.9 198.7,308.7 198.9,309.7 199.0,310.3 199.2,311.6 199.3,312.3 199.5,313.5 199.7,314.0 199.8,315.0 200.0,315.7 200.1,316.5 200.3,317.8 200.4,318.3 200.6,319.3 200.7,319.8 200.9,320.9 201.1,321.2 201.2,322.3 201.4,323.0 201.5,324.1 201.7,324.7 201.8,325.4 202.0,326.4 202.2,327.0 202.3,327.8 202.5,328.6 202.6,329.1 202.8,329.7 202.9,330.6 203.1,331.1 203.3,332.0 203.4,332.9 203.6,333.5 203.7,333.8 203.9,334.3 204.0,335.2 204.2,335.9 204.4,336.8 204.5,337.1 204.7,337.8 204.8,338.6 205.0,338.9 205.1,339.6 205.3,340.7 205.4,341.3 205.6,341.6 205.8,342.2 205.9,342.4 206.1,343.4 206.2,343.9 206.4,344.5 206.5,344.9 206.7,345.5 206.9,346.1 207.0,346.7 207.2,347.6 207.3,347.9 207.5,347.9 207.6,348.6 207.8,349.0 208.0,349.7 208.1,350.6 208.3,351.0 208.4,351.3 208.6,352.0 208.7,352.3 208.9,352.6 209.0,353.1 209.2,353.8 209.4,354.8 209.5,354.6 209.7,355.7 209.8,356.3 210.0,356.4 210.1,356.9 210.3,357.2 210.5,357.8 210.6,358.4 210.8,358.7 210.9,359.4 211.1,359.9 211.2,360.2 211.4,360.6 211.6,361.0 211.7,361.5 211.9,361.6 212.0,362.4 212.2,362.8 212.3,362.9" stroke="#7030A0" stroke-width="9.3"/><circle cx="212.3" cy="362.9" r="4.65" fill="#7030A0"/>
</g>
<g stroke="#000" stroke-width="4.4" fill="none" stroke-linejoin="round">
<rect x="426.0" y="76.0" width="456.0" height="366.0"/>
<path d="M414.5,442.00H426.0"/>
<path d="M414.5,381.00H426.0"/>
<path d="M414.5,320.00H426.0"/>
<path d="M414.5,259.00H426.0"/>
<path d="M414.5,198.00H426.0"/>
<path d="M414.5,137.00H426.0"/>
<path d="M414.5,76.00H426.0"/>
<path d="M426.00,442.0V454"/>
<path d="M540.00,442.0V454"/>
<path d="M654.00,442.0V454"/>
<path d="M768.00,442.0V454"/>
<path d="M882.00,442.0V454"/>
</g>
<g clip-path="url(#ci)" fill="none" stroke-linejoin="round" stroke-linecap="butt">
<path d="M426.0,446.7 426.5,2.7 427.1,22.1 428.1,91.2 429.0,181.8 429.9,261.5 430.8,301.2 431.7,321.6 432.6,337.9 433.5,350.8 434.4,360.7 435.3,368.1 436.3,374.1 437.2,379.0 438.1,383.3 439.0,386.8 439.9,390.0 440.8,393.0 441.7,395.6 442.6,397.9 443.6,400.1 444.5,401.8 445.4,403.0 446.3,404.3 447.2,405.3 448.1,406.4 449.0,406.9 449.9,408.7 450.9,409.1 451.8,409.3 452.7,410.4 453.6,410.6 454.5,411.8 455.4,412.7 456.3,413.1 457.2,412.7 458.1,413.9 459.1,414.7 460.0,415.1 460.9,415.9 461.8,415.3 462.7,416.5 463.6,416.4 464.5,417.1 465.4,417.6 466.4,418.0 467.3,417.8 468.2,418.4 469.1,418.0 470.0,418.2 470.9,419.3 471.8,419.2 472.7,418.7 473.7,419.2 474.6,419.7 475.5,420.6 476.4,420.5 477.3,420.5 478.2,419.5 479.1,420.4 480.0,420.8 480.9,420.9 481.9,421.1 482.8,420.9 483.7,422.0 484.6,422.1 485.5,421.5 486.4,421.3 487.3,422.9 488.2,421.9 489.2,422.9 490.1,423.4 491.0,422.3 491.9,423.0 492.8,422.9 493.7,423.4 494.6,423.5 495.5,424.4 496.5,423.9 497.4,423.7 498.3,424.4 499.2,423.9 500.1,424.0 501.0,425.2 501.9,424.0 502.8,424.2 503.7,424.6 504.7,424.2 505.6,423.8 506.5,425.4 507.4,424.6 508.3,424.8 509.2,425.0 510.1,424.8 511.0,424.9 512.0,425.5 512.9,426.6 513.8,425.9 514.7,426.0 515.6,425.1 516.5,425.8 517.4,425.4 518.3,426.3 519.3,425.9 520.2,426.1 521.1,426.1 522.0,426.0 522.9,425.6 523.8,426.6 524.7,425.8 525.6,425.9 526.5,426.4 527.5,426.3 528.4,426.8 529.3,427.1 530.2,426.9 531.1,426.9 532.0,426.9 532.9,427.3 533.8,426.1 534.8,427.2 535.7,426.6 536.6,426.5 537.5,427.1 538.4,427.0 539.3,427.5 540.2,427.8 541.1,426.3 542.1,427.3 543.0,428.3 543.9,427.8 544.8,428.1 545.7,427.5 546.6,426.9 547.5,427.0 548.4,427.9 549.3,428.0 550.3,427.3 551.2,427.5 552.1,427.8 553.0,426.9 553.9,427.6 554.8,428.5 555.7,428.8 556.6,427.8 557.6,428.7 558.5,427.7 559.4,427.5 560.3,426.9 561.2,428.4 562.1,427.8 563.0,429.1 563.9,428.2 564.9,428.1 565.8,427.3 566.7,428.8 567.6,428.0 568.5,428.1 569.4,427.2 570.3,428.6 571.2,428.7 572.1,428.0 573.1,428.3 574.0,428.5 574.9,428.7 575.8,428.4 576.7,429.1 577.6,428.3 578.5,428.1 579.4,428.2 580.4,427.3 581.3,428.1 582.2,428.9 583.1,428.6 584.0,428.1 584.9,428.7 585.8,427.6 586.7,428.4 587.7,428.8 588.6,428.9 589.5,428.3 590.4,429.0 591.3,429.5 592.2,428.5 593.1,429.0 594.0,428.0 594.9,427.8 595.9,429.0 596.8,428.8 597.7,428.9 598.6,428.5 599.5,428.7 600.4,429.2 601.3,429.6 602.2,428.8 603.2,428.1 604.1,429.5 605.0,429.2 605.9,429.2 606.8,429.0 607.7,430.0 608.6,429.0 609.5,429.2 610.5,428.2 611.4,428.8 612.3,428.8 613.2,429.1 614.1,429.3 615.0,428.8 615.9,429.9 616.8,428.7 617.7,429.0 618.7,429.3 619.6,428.6 620.5,429.5 621.4,429.5 622.3,429.1 623.2,430.1 624.1,429.3 625.0,429.4 626.0,428.9 626.9,428.6 627.8,429.1 628.7,429.2 629.6,429.2 630.5,429.8 631.4,428.4 632.3,428.9 633.3,428.6 634.2,430.1 635.1,429.2 636.0,429.3 636.9,429.0 637.8,429.9 638.7,429.4 639.6,429.7 640.5,428.7 641.5,430.1 642.4,429.8 643.3,429.9 644.2,430.2 645.1,429.6 646.0,429.6 646.9,430.0 647.8,429.9 648.8,429.6 649.7,429.8 650.6,429.5 651.5,430.1 652.4,430.2 653.3,429.8 654.2,430.7 655.1,429.1 656.1,429.7 657.0,430.6 657.9,429.7 658.8,429.2 659.7,430.5 660.6,430.1 661.5,429.4 662.4,430.3 663.3,429.5 664.3,429.3 665.2,429.9 666.1,429.8 667.0,429.5 667.9,429.8 668.8,429.6 669.7,430.0 670.6,430.0 671.6,430.4 672.5,429.8 673.4,429.5 674.3,429.5 675.2,430.0 676.1,430.8 677.0,430.5 677.9,429.8 678.9,430.6 679.8,429.6 680.7,430.6 681.6,430.0 682.5,430.5 683.4,430.5 684.3,430.1 685.2,430.4 686.1,429.7 687.1,430.2 688.0,430.7 688.9,432.1 689.8,430.6 690.7,430.3 691.6,429.8 692.5,430.8 693.4,429.6 694.4,430.0 695.3,430.5 696.2,429.8 697.1,431.0 698.0,430.9 698.9,430.1 699.8,430.1 700.7,429.8 701.7,429.8 702.6,430.6 703.5,430.7 704.4,430.6 705.3,430.6 706.2,430.2 707.1,430.6 708.0,429.8 708.9,430.5 709.9,431.2 710.8,431.1 711.7,430.3 712.6,430.4 713.5,431.2 714.4,431.4 715.3,429.9 716.2,430.4 717.2,430.7 718.1,431.1 719.0,430.2 719.9,430.9 720.8,430.5 721.7,431.7 722.6,430.8 723.5,430.6 724.5,430.5 725.4,431.1 726.3,431.0 727.2,430.2 728.1,430.8 729.0,430.1 729.9,430.4 730.8,430.1 731.7,430.1 732.7,430.4 733.6,430.3 734.5,431.0 735.4,431.1 736.3,430.6 737.2,430.3 738.1,431.1 739.0,429.9 740.0,429.9 740.9,431.1 741.8,431.1 742.7,431.3 743.6,430.7 744.5,430.3 745.4,430.6 746.3,431.1 747.3,430.5 748.2,430.5 749.1,430.2 750.0,430.3 750.9,431.3 751.8,431.1 752.7,430.4 753.6,430.4 754.5,430.6 755.5,431.1 756.4,430.4 757.3,430.8 758.2,429.9 759.1,430.4 760.0,431.1 760.9,431.3 761.8,430.4 762.8,430.6 763.7,431.3 764.6,430.8 765.5,430.7 766.4,431.2 767.3,431.1 768.2,431.5 769.1,431.3 770.1,430.7 771.0,430.9 771.9,431.0 772.8,430.4 773.7,430.6 774.6,431.4 775.5,430.3 776.4,431.5 777.3,431.1 778.3,430.9 779.2,431.3 780.1,431.2 781.0,431.6 781.9,430.8 782.8,430.9 783.7,430.9 784.6,431.9 785.6,431.5 786.5,430.6 787.4,430.9 788.3,430.7 789.2,431.1 790.1,431.1 791.0,432.1 791.9,430.2 792.9,431.5 793.8,431.3 794.7,430.7 795.6,431.0 796.5,430.8 797.4,431.1 798.3,431.5 799.2,430.4 800.1,431.7 801.1,430.9 802.0,431.8 802.9,431.3 803.8,431.6 804.7,431.4 805.6,431.6 806.5,431.1 807.4,430.7 808.4,431.4 809.3,431.4 810.2,432.1 811.1,430.2 812.0,431.0 812.9,431.6 813.8,430.6 814.7,431.0 815.7,432.1 816.6,431.8 817.5,430.7 818.4,431.8 819.3,431.7 820.2,431.5 821.1,431.3 822.0,431.2 822.9,430.8 823.9,430.9 824.8,431.5 825.7,431.2 826.6,432.0 827.5,431.0 828.4,430.1 829.3,431.0 830.2,431.3 831.2,431.3 832.1,431.2 833.0,430.8 833.9,431.8 834.8,430.9 835.7,431.5 836.6,431.0 837.5,430.6 838.5,431.8 839.4,430.0 840.3,430.8 841.2,431.4 842.1,431.0 843.0,431.5 843.9,431.1 844.8,431.0 845.7,432.2 846.7,431.1 847.6,431.1 848.5,430.7 849.4,430.9 850.3,431.5 851.2,431.5 852.1,431.2 853.0,430.9 854.0,431.5 854.9,430.4 855.8,431.1 856.7,431.1 857.6,430.8 858.5,431.3 859.4,430.9 860.3,430.9 861.3,432.0 862.2,431.6 863.1,431.8 864.0,431.2 864.9,431.7 865.8,431.6 866.7,431.8 867.6,432.3 868.5,431.1 869.5,431.4 870.4,431.2 871.3,429.7 872.2,430.6 873.1,431.2 874.0,431.5 874.9,431.0 875.8,431.8 876.8,431.8 877.7,431.1 878.6,431.9 879.5,432.0 880.4,431.5 881.3,430.8 882.2,431.9 883.1,431.2 884.1,431.1 885.0,431.3 885.9,431.0 886.8,431.7 887.7,431.6 888.6,431.8" stroke="#70AD47" stroke-width="9.2"/>
<path d="M426.0,446.7 426.5,2.8 427.1,18.5 428.1,74.9 429.0,149.5 429.9,216.3 430.8,252.6 431.7,273.8 432.6,291.5 433.5,306.3 434.4,318.7 435.3,329.3 436.3,338.4 437.2,346.3 438.1,353.0 439.0,358.9 439.9,363.8 440.8,367.7 441.7,370.7 442.6,373.9 443.6,376.5 444.5,378.9 445.4,381.1 446.3,383.3 447.2,385.2 448.1,386.9 449.0,388.6 449.9,391.0 450.9,391.4 451.8,393.2 452.7,395.1 453.6,395.8 454.5,395.9 455.4,398.1 456.3,398.8 457.2,399.8 458.1,401.1 459.1,401.5 460.0,401.9 460.9,403.1 461.8,403.5 462.7,403.9 463.6,404.6 464.5,405.1 465.4,405.3 466.4,405.7 467.3,406.4 468.2,406.3 469.1,406.6 470.0,408.1 470.9,407.7 471.8,408.1 472.7,408.3 473.7,408.7 474.6,409.0 475.5,409.2 476.4,409.1 477.3,410.1 478.2,409.6 479.1,410.6 480.0,409.4 480.9,410.0 481.9,411.1 482.8,410.7 483.7,410.7 484.6,411.3 485.5,410.8 486.4,411.5 487.3,410.6 488.2,411.5 489.2,411.5 490.1,412.2 491.0,412.5 491.9,411.8 492.8,413.0 493.7,412.1 494.6,411.5 495.5,411.4 496.5,413.3 497.4,412.6 498.3,412.4 499.2,412.4 500.1,412.3 501.0,413.5 501.9,412.9 502.8,413.8 503.7,412.9 504.7,412.0 505.6,413.5 506.5,413.0 507.4,413.1 508.3,413.9 509.2,413.1 510.1,413.8 511.0,413.3 512.0,413.0 512.9,413.6 513.8,413.1 514.7,414.0 515.6,413.9 516.5,413.5 517.4,413.7 518.3,413.7 519.3,413.4 520.2,413.9 521.1,413.4 522.0,413.8 522.9,413.1 523.8,413.6 524.7,413.7 525.6,413.2 526.5,413.4 527.5,413.3 528.4,413.9 529.3,413.3 530.2,413.8 531.1,414.3 532.0,413.8 532.9,412.9 533.8,413.7 534.8,414.1 535.7,413.5 536.6,414.2 537.5,414.0 538.4,413.9 539.3,413.6 540.2,413.5 541.1,413.6 542.1,413.7 543.0,414.0 543.9,413.9 544.8,413.6 545.7,413.8 546.6,413.9 547.5,413.0 548.4,413.4 549.3,413.4 550.3,413.7 551.2,413.7 552.1,413.7 553.0,413.4 553.9,414.1 554.8,414.0 555.7,413.1 556.6,413.9 557.6,413.4 558.5,414.7 559.4,413.7 560.3,413.7 561.2,414.0 562.1,413.8 563.0,413.9 563.9,414.7 564.9,414.1 565.8,414.4 566.7,414.5 567.6,413.6 568.5,414.8 569.4,414.3 570.3,414.5 571.2,413.6 572.1,414.4 573.1,414.2 574.0,413.8 574.9,415.1 575.8,414.3 576.7,414.0 577.6,414.2 578.5,414.5 579.4,414.6 580.4,414.4 581.3,414.7 582.2,414.8 583.1,413.6 584.0,414.0 584.9,413.8 585.8,414.2 586.7,414.9 587.7,414.5 588.6,413.8 589.5,414.1 590.4,414.7 591.3,414.0 592.2,414.2 593.1,414.4 594.0,413.5 594.9,414.7 595.9,414.5 596.8,414.6 597.7,413.9 598.6,414.0 599.5,414.1 600.4,414.5 601.3,414.4 602.2,414.4 603.2,415.2 604.1,415.0 605.0,414.1 605.9,414.1 606.8,415.2 607.7,414.3 608.6,415.1 609.5,415.2 610.5,414.2 611.4,414.4 612.3,414.5 613.2,414.1 614.1,414.1 615.0,414.3 615.9,414.9 616.8,414.3 617.7,414.5 618.7,414.4 619.6,414.0 620.5,415.3 621.4,413.5 622.3,414.3 623.2,414.9 624.1,414.0 625.0,414.9 626.0,415.2 626.9,414.3 627.8,414.8 628.7,414.2 629.6,414.9 630.5,414.7 631.4,414.8 632.3,415.3 633.3,414.9 634.2,415.3 635.1,415.0 636.0,414.2 636.9,414.9 637.8,415.0 638.7,414.1 639.6,415.4 640.5,414.8 641.5,415.0 642.4,414.4 643.3,414.9 644.2,415.0 645.1,414.7 646.0,414.9 646.9,413.9 647.8,415.5 648.8,414.4 649.7,413.9 650.6,414.5 651.5,414.5 652.4,415.1 653.3,414.5 654.2,415.0 655.1,414.5 656.1,415.9 657.0,415.2 657.9,415.8 658.8,414.5 659.7,415.3 660.6,414.5 661.5,415.2 662.4,415.3 663.3,414.3 664.3,414.5 665.2,414.5 666.1,414.3 667.0,414.7 667.9,414.6 668.8,414.4 669.7,415.1 670.6,415.3 671.6,414.5 672.5,414.8 673.4,415.1 674.3,415.0 675.2,414.8 676.1,415.5 677.0,415.5 677.9,415.4 678.9,415.0 679.8,416.0 680.7,415.9 681.6,414.9 682.5,415.1 683.4,415.7 684.3,414.8 685.2,415.3 686.1,415.2 687.1,414.8 688.0,415.1 688.9,414.5 689.8,414.9 690.7,414.3 691.6,416.2 692.5,415.9 693.4,415.8 694.4,415.3 695.3,415.7 696.2,415.8 697.1,415.7 698.0,415.6 698.9,414.8 699.8,415.4 700.7,415.0 701.7,414.7 702.6,414.7 703.5,415.5 704.4,415.7 705.3,414.7 706.2,416.1 707.1,415.9 708.0,415.1 708.9,415.1 709.9,415.3 710.8,415.7 711.7,415.1 712.6,414.8 713.5,415.5 714.4,414.4 715.3,415.4 716.2,415.9 717.2,415.5 718.1,415.7 719.0,415.6 719.9,415.7 720.8,415.4 721.7,415.0 722.6,415.3 723.5,415.3 724.5,415.9 725.4,416.1 726.3,415.6 727.2,415.1 728.1,415.1 729.0,415.3 729.9,416.0 730.8,415.6 731.7,415.4 732.7,415.1 733.6,415.8 734.5,415.6 735.4,415.4 736.3,415.5 737.2,416.2 738.1,415.4 739.0,416.2 740.0,416.0 740.9,415.5 741.8,415.9 742.7,415.4 743.6,415.1 744.5,415.4 745.4,415.1 746.3,415.7 747.3,415.5 748.2,415.8 749.1,415.9 750.0,414.1 750.9,415.7 751.8,414.7 752.7,415.6 753.6,415.1 754.5,415.6 755.5,416.2 756.4,414.8 757.3,415.6 758.2,415.5 759.1,414.7 760.0,415.9 760.9,415.6 761.8,415.3 762.8,415.3 763.7,417.0 764.6,415.4 765.5,414.8 766.4,415.2 767.3,415.4 768.2,415.4 769.1,415.6 770.1,415.1 771.0,415.9 771.9,415.4 772.8,415.0 773.7,415.3 774.6,415.5 775.5,416.0 776.4,415.9 777.3,415.5 778.3,415.7 779.2,415.8 780.1,416.6 781.0,415.4 781.9,415.9 782.8,416.0 783.7,415.2 784.6,415.8 785.6,415.8 786.5,415.5 787.4,415.9 788.3,416.2 789.2,416.2 790.1,415.6 791.0,415.8 791.9,416.8 792.9,415.2 793.8,415.8 794.7,416.1 795.6,415.8 796.5,416.0 797.4,415.8 798.3,416.1 799.2,416.3 800.1,415.7 801.1,415.8 802.0,415.7 802.9,415.6 803.8,415.8 804.7,415.3 805.6,416.1 806.5,416.6 807.4,416.6 808.4,416.4 809.3,415.4 810.2,416.5 811.1,415.5 812.0,415.8 812.9,416.6 813.8,415.3 814.7,416.2 815.7,416.0 816.6,415.8 817.5,415.4 818.4,416.0 819.3,415.6 820.2,416.3 821.1,416.4 822.0,415.2 822.9,415.6 823.9,415.7 824.8,415.3 825.7,415.4 826.6,415.9 827.5,415.8 828.4,415.2 829.3,415.7 830.2,416.1 831.2,415.4 832.1,415.5 833.0,416.6 833.9,416.5 834.8,415.2 835.7,415.3 836.6,416.1 837.5,415.4 838.5,415.8 839.4,415.8 840.3,416.2 841.2,414.8 842.1,415.0 843.0,415.4 843.9,416.4 844.8,415.9 845.7,415.2 846.7,416.2 847.6,416.3 848.5,415.9 849.4,415.9 850.3,416.2 851.2,416.6 852.1,416.1 853.0,416.3 854.0,416.0 854.9,415.9 855.8,415.6 856.7,416.2 857.6,415.9 858.5,416.0 859.4,416.5 860.3,416.3 861.3,416.5 862.2,415.4 863.1,416.3 864.0,415.8 864.9,415.7 865.8,415.7 866.7,416.7 867.6,416.5 868.5,415.8 869.5,415.6 870.4,416.2 871.3,415.9 872.2,416.9 873.1,415.5 874.0,415.3 874.9,416.1 875.8,416.2 876.8,416.2 877.7,416.5 878.6,417.1 879.5,416.1 880.4,416.0 881.3,415.4 882.2,416.3 883.1,416.6 884.1,416.1 885.0,416.8 885.9,416.3 886.8,416.9 887.7,416.4 888.6,415.8" stroke="#00B0F0" stroke-width="9.2"/>
<path d="M426.0,446.6 426.5,2.7 427.1,32.7 428.1,128.8 429.0,223.1 429.9,257.6 430.8,274.5 431.7,286.8 432.6,296.4 433.5,304.5 434.4,311.7 435.3,318.2 436.3,323.8 437.2,328.4 438.1,332.8 439.0,336.4 439.9,339.6 440.8,342.5 441.7,345.2 442.6,347.3 443.6,349.1 444.5,350.7 445.4,352.0 446.3,352.4 447.2,352.1 448.1,351.8 449.0,350.8 449.9,351.9 450.9,351.1 451.8,350.4 452.7,349.7 453.6,349.0 454.5,348.5 455.4,348.6 456.3,347.9 457.2,348.5 458.1,347.7 459.1,347.4 460.0,348.2 460.9,347.5 461.8,347.7 462.7,347.3 463.6,346.6 464.5,347.8 465.4,347.1 466.4,348.1 467.3,347.2 468.2,347.2 469.1,348.1 470.0,348.3 470.9,348.3 471.8,347.8 472.7,348.8 473.7,348.0 474.6,348.5 475.5,348.5 476.4,348.8 477.3,349.4 478.2,349.0 479.1,349.6 480.0,349.8 480.9,349.0 481.9,349.3 482.8,349.8 483.7,349.9 484.6,350.4 485.5,349.7 486.4,350.9 487.3,351.1 488.2,350.9 489.2,350.5 490.1,351.3 491.0,351.2 491.9,351.8 492.8,351.7 493.7,352.2 494.6,351.9 495.5,352.8 496.5,351.4 497.4,352.1 498.3,352.9 499.2,352.2 500.1,353.3 501.0,352.6 501.9,353.3 502.8,353.0 503.7,353.4 504.7,353.8 505.6,353.8 506.5,353.8 507.4,355.0 508.3,354.3 509.2,354.0 510.1,354.9 511.0,355.0 512.0,355.3 512.9,355.6 513.8,354.7 514.7,355.6 515.6,355.8 516.5,355.5 517.4,355.7 518.3,354.5 519.3,355.6 520.2,356.7 521.1,355.4 522.0,356.0 522.9,356.5 523.8,356.7 524.7,357.2 525.6,356.0 526.5,356.9 527.5,357.3 528.4,356.6 529.3,357.2 530.2,358.1 531.1,358.0 532.0,357.8 532.9,356.6 533.8,357.7 534.8,358.0 535.7,357.9 536.6,358.1 537.5,359.5 538.4,358.3 539.3,358.1 540.2,358.7 541.1,358.5 542.1,358.7 543.0,358.9 543.9,359.3 544.8,359.2 545.7,358.7 546.6,359.3 547.5,359.6 548.4,359.3 549.3,360.1 550.3,360.0 551.2,359.4 552.1,360.1 553.0,360.8 553.9,360.8 554.8,360.2 555.7,360.7 556.6,360.2 557.6,359.9 558.5,360.8 559.4,360.8 560.3,361.0 561.2,360.9 562.1,361.1 563.0,360.9 563.9,361.4 564.9,361.6 565.8,361.4 566.7,361.8 567.6,360.9 568.5,361.3 569.4,362.3 570.3,362.5 571.2,362.0 572.1,362.0 573.1,361.6 574.0,362.3 574.9,362.6 575.8,361.8 576.7,362.7 577.6,362.7 578.5,362.8 579.4,362.3 580.4,363.0 581.3,362.3 582.2,363.6 583.1,363.1 584.0,362.7 584.9,363.7 585.8,363.8 586.7,363.1 587.7,364.3 588.6,363.1 589.5,363.7 590.4,364.2 591.3,362.9 592.2,364.3 593.1,363.9 594.0,364.0 594.9,363.7 595.9,364.3 596.8,363.8 597.7,363.9 598.6,364.2 599.5,364.0 600.4,365.2 601.3,364.1 602.2,364.4 603.2,364.7 604.1,364.9 605.0,365.2 605.9,365.3 606.8,365.0 607.7,365.0 608.6,365.2 609.5,365.6 610.5,365.6 611.4,365.2 612.3,364.7 613.2,366.4 614.1,366.0 615.0,365.8 615.9,365.9 616.8,365.6 617.7,365.5 618.7,365.9 619.6,366.0 620.5,365.9 621.4,365.6 622.3,366.1 623.2,366.6 624.1,366.2 625.0,366.5 626.0,365.7 626.9,366.5 627.8,366.6 628.7,366.2 629.6,366.1 630.5,367.0 631.4,366.6 632.3,367.2 633.3,366.9 634.2,367.4 635.1,367.0 636.0,366.6 636.9,367.3 637.8,367.2 638.7,367.7 639.6,367.3 640.5,367.4 641.5,368.0 642.4,368.1 643.3,368.0 644.2,368.2 645.1,368.0 646.0,368.2 646.9,368.3 647.8,368.2 648.8,368.1 649.7,368.2 650.6,369.2 651.5,368.3 652.4,368.3 653.3,368.3 654.2,368.4 655.1,368.6 656.1,368.1 657.0,367.8 657.9,368.8 658.8,368.1 659.7,368.9 660.6,368.9 661.5,369.4 662.4,369.6 663.3,369.2 664.3,368.9 665.2,368.7 666.1,368.9 667.0,369.3 667.9,368.5 668.8,369.4 669.7,369.4 670.6,369.7 671.6,369.4 672.5,369.6 673.4,369.3 674.3,369.5 675.2,369.0 676.1,369.9 677.0,370.5 677.9,370.0 678.9,370.1 679.8,369.6 680.7,370.6 681.6,369.8 682.5,370.5 683.4,370.3 684.3,369.9 685.2,370.7 686.1,370.4 687.1,370.5 688.0,370.7 688.9,370.5 689.8,370.4 690.7,370.8 691.6,370.5 692.5,370.8 693.4,370.5 694.4,370.2 695.3,370.6 696.2,370.7 697.1,371.0 698.0,371.5 698.9,370.4 699.8,371.2 700.7,370.3 701.7,370.8 702.6,371.1 703.5,370.4 704.4,370.6 705.3,371.5 706.2,371.5 707.1,371.5 708.0,371.3 708.9,372.5 709.9,371.6 710.8,371.4 711.7,372.4 712.6,372.1 713.5,371.7 714.4,372.4 715.3,372.0 716.2,372.3 717.2,372.1 718.1,371.7 719.0,372.5 719.9,372.3 720.8,371.8 721.7,372.0 722.6,372.7 723.5,372.2 724.5,372.4 725.4,372.7 726.3,372.6 727.2,371.9 728.1,372.9 729.0,373.0 729.9,373.0 730.8,373.4 731.7,372.9 732.7,373.1 733.6,373.5 734.5,372.8 735.4,373.6 736.3,373.7 737.2,373.4 738.1,373.8 739.0,373.5 740.0,372.8 740.9,373.7 741.8,373.4 742.7,373.5 743.6,373.4 744.5,373.9 745.4,373.7 746.3,373.2 747.3,373.7 748.2,373.9 749.1,373.3 750.0,373.5 750.9,373.5 751.8,373.5 752.7,373.9 753.6,374.2 754.5,374.6 755.5,374.4 756.4,374.3 757.3,374.4 758.2,374.6 759.1,373.9 760.0,374.4 760.9,374.3 761.8,374.1 762.8,374.0 763.7,374.1 764.6,374.2 765.5,373.9 766.4,374.6 767.3,374.4 768.2,374.5 769.1,374.6 770.1,374.8 771.0,374.4 771.9,374.6 772.8,374.0 773.7,373.8 774.6,374.0 775.5,375.4 776.4,374.1 777.3,375.1 778.3,375.5 779.2,374.8 780.1,375.6 781.0,375.8 781.9,375.4 782.8,376.1 783.7,375.4 784.6,374.9 785.6,375.4 786.5,375.1 787.4,374.8 788.3,374.8 789.2,376.3 790.1,375.2 791.0,375.4 791.9,375.2 792.9,375.6 793.8,375.5 794.7,375.4 795.6,375.2 796.5,375.1 797.4,375.4 798.3,375.9 799.2,376.6 800.1,376.3 801.1,376.6 802.0,376.1 802.9,375.9 803.8,375.5 804.7,376.0 805.6,375.2 806.5,376.0 807.4,376.8 808.4,376.3 809.3,376.7 810.2,376.1 811.1,375.7 812.0,376.1 812.9,376.2 813.8,376.9 814.7,377.2 815.7,376.2 816.6,376.4 817.5,376.5 818.4,376.4 819.3,376.1 820.2,376.7 821.1,376.8 822.0,376.9 822.9,376.3 823.9,376.7 824.8,376.1 825.7,377.2 826.6,376.5 827.5,376.8 828.4,376.8 829.3,376.8 830.2,376.6 831.2,376.4 832.1,377.8 833.0,377.2 833.9,377.3 834.8,378.1 835.7,377.2 836.6,377.5 837.5,377.3 838.5,377.8 839.4,377.6 840.3,377.5 841.2,377.4 842.1,377.6 843.0,378.0 843.9,376.7 844.8,377.5 845.7,377.5 846.7,377.5 847.6,376.9 848.5,378.0 849.4,377.4 850.3,377.7 851.2,377.6 852.1,377.2 853.0,377.7 854.0,377.2 854.9,377.6 855.8,377.9 856.7,378.0 857.6,378.1 858.5,378.0 859.4,379.0 860.3,378.3 861.3,377.7 862.2,378.0 863.1,378.0 864.0,378.2 864.9,378.1 865.8,378.0 866.7,379.1 867.6,378.4 868.5,378.3 869.5,378.4 870.4,378.4 871.3,379.1 872.2,378.8 873.1,379.1 874.0,377.4 874.9,378.8 875.8,379.1 876.8,379.5 877.7,378.8 878.6,378.1 879.5,379.1 880.4,378.6 881.3,378.2 882.2,378.7 883.1,379.4 884.1,379.5 885.0,379.3 885.9,378.7 886.8,380.1 887.7,378.7 888.6,379.1" stroke="#ED7D31" stroke-width="9.2"/>
<path d="M426.0,446.9 426.5,2.8 427.1,5.1 428.1,14.1 429.0,29.0 429.9,48.3 430.8,70.4 431.7,94.7 432.6,118.9 433.5,144.3 434.4,175.7 435.3,212.5 436.3,261.9 437.2,287.5 438.1,291.4 439.0,292.9 439.9,293.6 440.8,294.3 441.7,294.8 442.6,295.2 443.6,295.5 444.5,295.9 445.4,296.2 446.3,296.5 447.2,296.8 448.1,297.1 449.0,297.4 449.9,297.9 450.9,297.3 451.8,298.8 452.7,298.0 453.6,299.1 454.5,299.1 455.4,299.8 456.3,299.6 457.2,299.5 458.1,300.5 459.1,300.4 460.0,300.6 460.9,300.9 461.8,301.5 462.7,301.6 463.6,301.6 464.5,301.1 465.4,301.8 466.4,302.3 467.3,303.2 468.2,302.8 469.1,302.8 470.0,303.6 470.9,303.3 471.8,303.5 472.7,303.8 473.7,303.3 474.6,304.5 475.5,304.5 476.4,304.5 477.3,304.3 478.2,305.1 479.1,305.8 480.0,305.2 480.9,305.2 481.9,306.0 482.8,305.4 483.7,305.4 484.6,306.3 485.5,306.4 486.4,306.8 487.3,306.9 488.2,307.4 489.2,307.4 490.1,307.4 491.0,307.7 491.9,308.3 492.8,308.6 493.7,308.8 494.6,308.9 495.5,307.5 496.5,308.6 497.4,309.1 498.3,309.5 499.2,308.9 500.1,310.3 501.0,310.1 501.9,309.9 502.8,310.4 503.7,310.3 504.7,310.3 505.6,311.0 506.5,310.8 507.4,310.6 508.3,311.1 509.2,311.5 510.1,311.3 511.0,312.4 512.0,311.6 512.9,312.9 513.8,312.7 514.7,312.2 515.6,312.8 516.5,313.3 517.4,313.0 518.3,312.7 519.3,313.4 520.2,314.3 521.1,313.1 522.0,314.1 522.9,314.0 523.8,314.1 524.7,314.2 525.6,314.3 526.5,315.0 527.5,315.0 528.4,314.5 529.3,315.7 530.2,314.7 531.1,315.6 532.0,315.6 532.9,316.2 533.8,316.0 534.8,316.4 535.7,316.1 536.6,316.7 537.5,316.6 538.4,317.4 539.3,316.4 540.2,317.3 541.1,317.2 542.1,317.2 543.0,317.0 543.9,317.6 544.8,317.0 545.7,317.1 546.6,318.1 547.5,317.3 548.4,318.7 549.3,318.1 550.3,318.5 551.2,318.5 552.1,318.8 553.0,318.7 553.9,318.7 554.8,319.0 555.7,319.6 556.6,319.7 557.6,319.9 558.5,319.7 559.4,319.6 560.3,319.1 561.2,320.2 562.1,320.4 563.0,320.0 563.9,320.6 564.9,320.9 565.8,320.6 566.7,321.1 567.6,320.9 568.5,320.2 569.4,320.8 570.3,321.0 571.2,321.5 572.1,321.1 573.1,321.3 574.0,321.2 574.9,321.7 575.8,321.9 576.7,322.4 577.6,322.4 578.5,322.3 579.4,322.4 580.4,322.5 581.3,322.6 582.2,323.3 583.1,321.8 584.0,322.8 584.9,323.1 585.8,323.6 586.7,322.8 587.7,323.5 588.6,323.8 589.5,323.4 590.4,322.9 591.3,323.6 592.2,323.4 593.1,324.3 594.0,323.8 594.9,324.9 595.9,324.4 596.8,324.1 597.7,324.3 598.6,324.2 599.5,324.9 600.4,325.4 601.3,324.9 602.2,325.4 603.2,324.8 604.1,325.4 605.0,326.3 605.9,324.9 606.8,326.1 607.7,326.1 608.6,325.0 609.5,325.3 610.5,325.6 611.4,326.5 612.3,326.0 613.2,326.2 614.1,326.6 615.0,326.5 615.9,326.7 616.8,326.5 617.7,327.2 618.7,326.5 619.6,327.6 620.5,326.9 621.4,326.8 622.3,327.5 623.2,327.5 624.1,326.6 625.0,327.6 626.0,327.1 626.9,327.4 627.8,328.1 628.7,327.5 629.6,328.1 630.5,327.9 631.4,328.9 632.3,328.2 633.3,327.9 634.2,328.0 635.1,328.2 636.0,328.7 636.9,328.7 637.8,329.2 638.7,329.0 639.6,329.0 640.5,329.2 641.5,329.1 642.4,329.4 643.3,329.6 644.2,329.7 645.1,329.3 646.0,328.9 646.9,329.3 647.8,329.9 648.8,328.8 649.7,329.7 650.6,330.2 651.5,329.9 652.4,329.7 653.3,331.0 654.2,330.9 655.1,330.3 656.1,331.0 657.0,331.1 657.9,330.2 658.8,331.8 659.7,330.5 660.6,330.8 661.5,330.6 662.4,331.1 663.3,330.7 664.3,331.3 665.2,331.8 666.1,331.5 667.0,331.4 667.9,332.2 668.8,331.3 669.7,332.1 670.6,331.7 671.6,332.0 672.5,332.0 673.4,332.1 674.3,332.1 675.2,331.9 676.1,332.1 677.0,332.6 677.9,332.4 678.9,332.1 679.8,332.3 680.7,332.4 681.6,332.7 682.5,332.9 683.4,332.9 684.3,332.7 685.2,333.1 686.1,332.6 687.1,332.1 688.0,333.3 688.9,332.7 689.8,333.1 690.7,333.0 691.6,333.8 692.5,333.2 693.4,333.9 694.4,333.6 695.3,333.4 696.2,333.3 697.1,334.2 698.0,334.3 698.9,334.5 699.8,335.0 700.7,334.4 701.7,334.5 702.6,334.4 703.5,334.6 704.4,334.5 705.3,334.3 706.2,335.6 707.1,334.1 708.0,335.0 708.9,335.1 709.9,335.1 710.8,334.7 711.7,335.1 712.6,335.1 713.5,334.9 714.4,335.4 715.3,335.3 716.2,335.3 717.2,335.9 718.1,335.3 719.0,335.9 719.9,335.6 720.8,336.1 721.7,336.0 722.6,336.1 723.5,335.7 724.5,335.8 725.4,335.9 726.3,336.4 727.2,336.7 728.1,336.9 729.0,336.3 729.9,336.6 730.8,336.0 731.7,335.8 732.7,336.4 733.6,336.6 734.5,336.3 735.4,336.3 736.3,337.2 737.2,336.8 738.1,336.5 739.0,338.2 740.0,337.4 740.9,337.2 741.8,337.7 742.7,337.2 743.6,338.2 744.5,337.0 745.4,337.2 746.3,337.7 747.3,337.5 748.2,338.4 749.1,337.3 750.0,337.7 750.9,338.2 751.8,338.4 752.7,338.6 753.6,338.4 754.5,339.2 755.5,338.2 756.4,338.6 757.3,338.9 758.2,338.5 759.1,338.6 760.0,338.6 760.9,338.6 761.8,338.5 762.8,338.8 763.7,338.4 764.6,339.3 765.5,338.6 766.4,340.1 767.3,340.0 768.2,339.8 769.1,339.4 770.1,339.3 771.0,340.1 771.9,339.8 772.8,340.0 773.7,339.6 774.6,340.3 775.5,339.7 776.4,340.1 777.3,339.4 778.3,339.9 779.2,340.5 780.1,340.2 781.0,340.2 781.9,340.8 782.8,340.5 783.7,341.1 784.6,339.7 785.6,341.0 786.5,341.1 787.4,340.3 788.3,340.5 789.2,341.4 790.1,340.7 791.0,341.0 791.9,341.5 792.9,341.2 793.8,341.6 794.7,341.2 795.6,341.7 796.5,342.1 797.4,341.9 798.3,340.9 799.2,342.1 800.1,342.0 801.1,341.7 802.0,342.6 802.9,341.5 803.8,343.0 804.7,342.1 805.6,343.0 806.5,342.4 807.4,342.0 808.4,342.6 809.3,342.8 810.2,342.9 811.1,343.2 812.0,342.5 812.9,343.1 813.8,343.3 814.7,343.0 815.7,342.8 816.6,342.8 817.5,343.6 818.4,343.7 819.3,343.1 820.2,343.0 821.1,344.0 822.0,343.0 822.9,343.7 823.9,343.4 824.8,343.1 825.7,343.9 826.6,343.9 827.5,344.6 828.4,345.0 829.3,344.1 830.2,344.6 831.2,344.7 832.1,344.1 833.0,344.0 833.9,345.1 834.8,344.4 835.7,344.6 836.6,344.5 837.5,344.6 838.5,344.5 839.4,345.1 840.3,345.4 841.2,344.8 842.1,344.4 843.0,345.1 843.9,344.5 844.8,344.9 845.7,345.7 846.7,346.2 847.6,345.5 848.5,345.0 849.4,345.8 850.3,344.6 851.2,345.3 852.1,346.2 853.0,346.0 854.0,345.2 854.9,345.1 855.8,346.2 856.7,345.9 857.6,345.7 858.5,346.2 859.4,345.9 860.3,345.4 861.3,346.5 862.2,346.0 863.1,345.9 864.0,345.8 864.9,346.5 865.8,346.2 866.7,346.8 867.6,346.5 868.5,347.1 869.5,346.6 870.4,346.5 871.3,346.0 872.2,346.4 873.1,347.2 874.0,348.2 874.9,346.6 875.8,346.7 876.8,347.3 877.7,347.4 878.6,347.0 879.5,347.4 880.4,346.7 881.3,347.3 882.2,347.8 883.1,348.2 884.1,347.5 885.0,347.5 885.9,347.9 886.8,348.2 887.7,348.0 888.6,347.6" stroke="#A5A5A5" stroke-width="9.2"/>
<path d="M426.0,446.8 426.5,2.7 427.1,4.7 428.1,13.1 429.0,26.4 429.9,43.5 430.8,62.8 431.7,83.1 432.6,106.9 433.5,137.7 434.4,172.4 435.3,205.5 436.3,219.7 437.2,229.6 438.1,236.1 439.0,240.3 439.9,243.1 440.8,245.5 441.7,247.2 442.6,248.6 443.6,249.8 444.5,250.7 445.4,251.4 446.3,252.2 447.2,252.7 448.1,253.4 449.0,254.2 449.9,254.6 450.9,254.8 451.8,254.8 452.7,255.9 453.6,256.1 454.5,256.7 455.4,256.8 456.3,256.9 457.2,257.0 458.1,258.0 459.1,258.5 460.0,258.1 460.9,258.7 461.8,259.3 462.7,258.6 463.6,259.1 464.5,259.0 465.4,260.1 466.4,260.0 467.3,259.9 468.2,259.6 469.1,260.4 470.0,261.1 470.9,260.8 471.8,260.9 472.7,261.5 473.7,261.0 474.6,261.7 475.5,262.1 476.4,261.7 477.3,261.9 478.2,262.5 479.1,262.5 480.0,262.7 480.9,263.1 481.9,263.3 482.8,263.0 483.7,263.3 484.6,263.9 485.5,264.4 486.4,264.7 487.3,264.0 488.2,264.9 489.2,265.0 490.1,264.8 491.0,265.2 491.9,265.5 492.8,266.1 493.7,265.1 494.6,265.9 495.5,265.8 496.5,266.0 497.4,266.7 498.3,266.7 499.2,266.2 500.1,266.6 501.0,267.0 501.9,266.5 502.8,267.6 503.7,267.4 504.7,267.7 505.6,267.9 506.5,268.7 507.4,268.1 508.3,268.2 509.2,269.2 510.1,268.4 511.0,268.6 512.0,268.4 512.9,269.6 513.8,269.4 514.7,269.7 515.6,269.7 516.5,269.8 517.4,269.7 518.3,269.9 519.3,270.5 520.2,270.6 521.1,271.3 522.0,270.6 522.9,270.8 523.8,270.8 524.7,271.9 525.6,271.0 526.5,272.0 527.5,272.4 528.4,272.0 529.3,272.5 530.2,271.5 531.1,272.3 532.0,272.0 532.9,272.9 533.8,273.0 534.8,272.8 535.7,273.7 536.6,273.6 537.5,273.4 538.4,273.5 539.3,273.3 540.2,274.0 541.1,275.0 542.1,274.1 543.0,274.7 543.9,274.4 544.8,275.1 545.7,275.1 546.6,275.0 547.5,274.5 548.4,275.1 549.3,276.0 550.3,275.5 551.2,276.0 552.1,275.7 553.0,275.3 553.9,276.4 554.8,276.5 555.7,276.3 556.6,276.5 557.6,276.9 558.5,276.7 559.4,277.2 560.3,277.1 561.2,276.4 562.1,277.4 563.0,277.4 563.9,277.4 564.9,278.0 565.8,277.8 566.7,278.4 567.6,278.7 568.5,278.5 569.4,278.0 570.3,278.4 571.2,279.2 572.1,278.9 573.1,278.8 574.0,279.2 574.9,279.6 575.8,279.6 576.7,279.9 577.6,279.5 578.5,279.8 579.4,280.0 580.4,280.2 581.3,279.5 582.2,280.4 583.1,280.1 584.0,281.3 584.9,281.5 585.8,281.7 586.7,281.5 587.7,281.1 588.6,281.8 589.5,281.5 590.4,281.9 591.3,281.4 592.2,281.7 593.1,282.2 594.0,282.9 594.9,282.3 595.9,283.3 596.8,283.7 597.7,282.2 598.6,282.8 599.5,282.6 600.4,283.0 601.3,283.0 602.2,283.3 603.2,283.9 604.1,284.0 605.0,283.8 605.9,283.9 606.8,284.0 607.7,284.2 608.6,284.5 609.5,284.4 610.5,284.7 611.4,284.1 612.3,285.0 613.2,285.5 614.1,285.0 615.0,284.5 615.9,285.7 616.8,285.2 617.7,284.3 618.7,285.5 619.6,285.9 620.5,285.9 621.4,286.4 622.3,286.3 623.2,286.2 624.1,285.4 625.0,285.9 626.0,286.5 626.9,286.8 627.8,286.3 628.7,286.5 629.6,287.1 630.5,286.2 631.4,286.3 632.3,287.1 633.3,287.4 634.2,287.2 635.1,286.6 636.0,287.6 636.9,287.2 637.8,288.1 638.7,287.9 639.6,288.1 640.5,288.4 641.5,288.0 642.4,288.7 643.3,288.9 644.2,288.7 645.1,289.2 646.0,288.5 646.9,289.2 647.8,289.0 648.8,288.6 649.7,289.1 650.6,289.0 651.5,289.1 652.4,289.5 653.3,289.9 654.2,289.5 655.1,289.8 656.1,289.2 657.0,290.0 657.9,290.5 658.8,290.4 659.7,290.4 660.6,290.1 661.5,290.0 662.4,290.5 663.3,290.1 664.3,290.2 665.2,291.2 666.1,290.6 667.0,291.7 667.9,290.5 668.8,291.4 669.7,290.9 670.6,291.5 671.6,291.1 672.5,291.6 673.4,291.7 674.3,291.6 675.2,292.1 676.1,292.6 677.0,291.9 677.9,292.6 678.9,292.3 679.8,292.4 680.7,293.4 681.6,291.7 682.5,292.4 683.4,292.1 684.3,292.8 685.2,292.9 686.1,294.6 687.1,293.3 688.0,294.0 688.9,293.9 689.8,293.3 690.7,293.7 691.6,294.3 692.5,293.8 693.4,293.9 694.4,294.1 695.3,293.4 696.2,293.8 697.1,294.4 698.0,294.5 698.9,294.0 699.8,294.4 700.7,294.6 701.7,294.6 702.6,295.1 703.5,294.9 704.4,295.1 705.3,294.5 706.2,294.8 707.1,295.4 708.0,294.7 708.9,295.6 709.9,295.3 710.8,295.4 711.7,296.0 712.6,295.6 713.5,295.6 714.4,295.8 715.3,296.2 716.2,297.4 717.2,295.5 718.1,296.5 719.0,296.5 719.9,297.1 720.8,296.6 721.7,295.9 722.6,297.5 723.5,296.7 724.5,297.2 725.4,296.8 726.3,297.0 727.2,297.3 728.1,298.0 729.0,298.1 729.9,297.6 730.8,298.2 731.7,297.9 732.7,298.2 733.6,298.4 734.5,298.7 735.4,298.3 736.3,298.6 737.2,298.8 738.1,298.9 739.0,298.7 740.0,299.8 740.9,299.0 741.8,299.6 742.7,299.5 743.6,300.0 744.5,298.8 745.4,300.6 746.3,299.8 747.3,299.5 748.2,300.2 749.1,301.1 750.0,300.5 750.9,300.0 751.8,300.4 752.7,301.2 753.6,300.2 754.5,300.8 755.5,300.9 756.4,302.0 757.3,301.1 758.2,301.9 759.1,301.2 760.0,301.3 760.9,302.1 761.8,302.0 762.8,301.2 763.7,302.3 764.6,302.4 765.5,302.0 766.4,302.4 767.3,302.6 768.2,302.4 769.1,302.5 770.1,302.5 771.0,302.8 771.9,302.5 772.8,303.1 773.7,302.6 774.6,303.4 775.5,303.4 776.4,303.2 777.3,304.0 778.3,304.6 779.2,304.4 780.1,303.5 781.0,304.6 781.9,304.3 782.8,304.3 783.7,304.2 784.6,304.5 785.6,305.2 786.5,305.0 787.4,304.7 788.3,304.7 789.2,304.9 790.1,305.4 791.0,306.1 791.9,305.0 792.9,305.5 793.8,305.5 794.7,305.5 795.6,306.0 796.5,306.2 797.4,305.5 798.3,305.8 799.2,306.8 800.1,306.6 801.1,306.7 802.0,306.5 802.9,306.6 803.8,307.1 804.7,306.8 805.6,306.6 806.5,307.2 807.4,307.7 808.4,307.0 809.3,307.9 810.2,307.9 811.1,307.4 812.0,307.8 812.9,307.9 813.8,308.3 814.7,308.4 815.7,307.7 816.6,307.8 817.5,308.9 818.4,308.6 819.3,308.8 820.2,308.9 821.1,309.5 822.0,308.5 822.9,309.5 823.9,308.9 824.8,309.6 825.7,309.9 826.6,308.9 827.5,309.7 828.4,309.6 829.3,309.7 830.2,309.9 831.2,309.6 832.1,309.7 833.0,310.4 833.9,310.6 834.8,310.1 835.7,309.9 836.6,311.4 837.5,311.0 838.5,310.8 839.4,310.4 840.3,310.7 841.2,311.1 842.1,310.7 843.0,311.8 843.9,311.3 844.8,311.5 845.7,311.0 846.7,311.2 847.6,311.3 848.5,311.8 849.4,311.7 850.3,311.8 851.2,312.1 852.1,312.1 853.0,312.7 854.0,312.1 854.9,311.9 855.8,312.4 856.7,313.1 857.6,312.4 858.5,312.7 859.4,312.6 860.3,313.0 861.3,313.0 862.2,312.7 863.1,313.0 864.0,313.6 864.9,313.7 865.8,313.7 866.7,313.8 867.6,313.4 868.5,313.5 869.5,314.1 870.4,313.3 871.3,313.9 872.2,313.2 873.1,313.9 874.0,313.9 874.9,313.8 875.8,314.5 876.8,314.1 877.7,314.3 878.6,314.5 879.5,314.4 880.4,315.3 881.3,314.6 882.2,315.0 883.1,314.5 884.1,314.9 885.0,315.0 885.9,315.1 886.8,315.1 887.7,315.5 888.6,316.1" stroke="#FFC000" stroke-width="9.2"/>
<path d="M426.0,446.7 426.5,2.8 427.1,6.0 428.1,17.4 429.0,34.4 429.9,53.7 430.8,71.9 431.7,88.6 432.6,106.4 433.5,121.8 434.4,133.6 435.3,142.0 436.3,142.3 437.2,141.3 438.1,139.9 439.0,138.8 439.9,137.3 440.8,135.4 441.7,133.8 442.6,132.4 443.6,131.9 444.5,131.2 445.4,130.7 446.3,130.3 447.2,130.3 448.1,130.0 449.0,129.6 449.9,130.5 450.9,130.7 451.8,131.6 452.7,130.8 453.6,131.0 454.5,132.0 455.4,132.7 456.3,133.2 457.2,134.0 458.1,133.5 459.1,134.3 460.0,135.1 460.9,136.1 461.8,136.5 462.7,136.7 463.6,137.1 464.5,138.4 465.4,139.0 466.4,140.3 467.3,139.7 468.2,141.0 469.1,140.5 470.0,141.3 470.9,141.8 471.8,142.5 472.7,142.9 473.7,143.6 474.6,144.4 475.5,144.8 476.4,145.8 477.3,146.1 478.2,146.7 479.1,147.9 480.0,148.0 480.9,148.4 481.9,148.9 482.8,149.5 483.7,150.2 484.6,150.2 485.5,151.5 486.4,152.2 487.3,152.6 488.2,152.5 489.2,152.6 490.1,153.6 491.0,154.4 491.9,155.2 492.8,155.3 493.7,155.8 494.6,157.0 495.5,156.6 496.5,157.8 497.4,158.2 498.3,157.9 499.2,159.0 500.1,159.1 501.0,159.5 501.9,159.6 502.8,160.2 503.7,161.5 504.7,161.6 505.6,162.4 506.5,162.4 507.4,163.1 508.3,163.6 509.2,163.6 510.1,164.0 511.0,165.3 512.0,165.7 512.9,165.7 513.8,166.5 514.7,167.3 515.6,168.2 516.5,167.6 517.4,168.6 518.3,169.6 519.3,169.3 520.2,170.3 521.1,169.1 522.0,171.1 522.9,171.0 523.8,170.7 524.7,172.2 525.6,172.7 526.5,173.2 527.5,173.7 528.4,173.6 529.3,173.8 530.2,174.3 531.1,174.9 532.0,175.5 532.9,175.6 533.8,176.2 534.8,177.0 535.7,177.2 536.6,178.4 537.5,178.8 538.4,177.9 539.3,178.5 540.2,178.7 541.1,179.2 542.1,180.3 543.0,180.1 543.9,180.5 544.8,181.2 545.7,182.0 546.6,182.0 547.5,182.4 548.4,183.3 549.3,183.5 550.3,183.9 551.2,184.5 552.1,184.2 553.0,185.0 553.9,185.1 554.8,186.2 555.7,186.5 556.6,186.1 557.6,187.5 558.5,186.9 559.4,188.2 560.3,188.2 561.2,188.1 562.1,188.4 563.0,189.1 563.9,189.6 564.9,189.7 565.8,190.6 566.7,190.2 567.6,191.1 568.5,191.5 569.4,191.1 570.3,192.3 571.2,192.1 572.1,191.9 573.1,193.0 574.0,193.5 574.9,194.3 575.8,194.2 576.7,195.3 577.6,195.6 578.5,195.8 579.4,196.3 580.4,196.2 581.3,196.2 582.2,197.0 583.1,197.5 584.0,197.5 584.9,197.7 585.8,197.5 586.7,198.7 587.7,198.9 588.6,198.6 589.5,199.5 590.4,200.1 591.3,200.1 592.2,200.7 593.1,201.1 594.0,200.5 594.9,201.3 595.9,201.9 596.8,202.4 597.7,202.9 598.6,201.9 599.5,202.9 600.4,203.6 601.3,204.1 602.2,204.6 603.2,203.8 604.1,204.4 605.0,204.4 605.9,205.4 606.8,204.9 607.7,206.1 608.6,206.3 609.5,206.4 610.5,205.7 611.4,206.6 612.3,207.4 613.2,206.8 614.1,207.6 615.0,207.9 615.9,208.6 616.8,208.6 617.7,208.9 618.7,208.9 619.6,209.3 620.5,209.5 621.4,210.1 622.3,210.1 623.2,210.8 624.1,210.0 625.0,211.4 626.0,211.1 626.9,211.9 627.8,211.8 628.7,212.3 629.6,212.8 630.5,212.3 631.4,212.8 632.3,213.0 633.3,213.4 634.2,212.9 635.1,213.8 636.0,214.0 636.9,214.1 637.8,214.5 638.7,214.3 639.6,215.7 640.5,215.6 641.5,216.4 642.4,215.6 643.3,215.7 644.2,216.5 645.1,216.0 646.0,217.0 646.9,216.9 647.8,217.3 648.8,217.8 649.7,217.9 650.6,218.9 651.5,218.7 652.4,218.1 653.3,219.3 654.2,218.6 655.1,219.4 656.1,219.1 657.0,219.6 657.9,220.6 658.8,220.1 659.7,220.3 660.6,220.6 661.5,221.0 662.4,221.9 663.3,221.1 664.3,221.3 665.2,222.2 666.1,221.6 667.0,222.3 667.9,223.2 668.8,222.9 669.7,223.0 670.6,223.1 671.6,223.3 672.5,223.6 673.4,224.1 674.3,224.8 675.2,224.9 676.1,224.5 677.0,224.7 677.9,225.5 678.9,224.7 679.8,225.5 680.7,225.7 681.6,225.6 682.5,225.9 683.4,226.7 684.3,226.1 685.2,226.6 686.1,226.9 687.1,227.4 688.0,227.0 688.9,228.2 689.8,227.9 690.7,228.1 691.6,228.3 692.5,228.4 693.4,228.5 694.4,229.5 695.3,229.4 696.2,229.5 697.1,230.1 698.0,229.6 698.9,230.4 699.8,230.4 700.7,230.2 701.7,231.1 702.6,230.4 703.5,231.4 704.4,231.0 705.3,231.8 706.2,232.4 707.1,232.2 708.0,232.0 708.9,232.4 709.9,232.5 710.8,232.4 711.7,232.6 712.6,233.3 713.5,233.7 714.4,233.0 715.3,233.8 716.2,234.3 717.2,234.3 718.1,234.1 719.0,235.1 719.9,234.4 720.8,235.3 721.7,235.9 722.6,234.6 723.5,235.7 724.5,235.9 725.4,236.1 726.3,235.9 727.2,236.2 728.1,236.0 729.0,236.8 729.9,237.1 730.8,236.8 731.7,236.9 732.7,237.2 733.6,237.6 734.5,237.8 735.4,237.9 736.3,238.1 737.2,237.7 738.1,237.4 739.0,238.8 740.0,239.3 740.9,238.3 741.8,238.8 742.7,239.3 743.6,239.7 744.5,239.8 745.4,240.2 746.3,239.8 747.3,240.1 748.2,240.2 749.1,240.1 750.0,240.8 750.9,240.8 751.8,241.0 752.7,240.6 753.6,241.3 754.5,240.6 755.5,241.3 756.4,240.3 757.3,241.1 758.2,241.9 759.1,241.5 760.0,241.9 760.9,241.3 761.8,242.7 762.8,242.4 763.7,242.3 764.6,242.6 765.5,242.7 766.4,243.3 767.3,242.9 768.2,242.4 769.1,243.0 770.1,243.7 771.0,243.5 771.9,243.2 772.8,243.8 773.7,243.7 774.6,244.0 775.5,243.2 776.4,243.6 777.3,244.4 778.3,244.1 779.2,244.5 780.1,245.2 781.0,244.4 781.9,244.8 782.8,244.6 783.7,244.6 784.6,245.0 785.6,244.5 786.5,244.4 787.4,245.9 788.3,245.4 789.2,246.0 790.1,245.7 791.0,245.8 791.9,246.1 792.9,246.3 793.8,245.6 794.7,246.7 795.6,245.9 796.5,246.5 797.4,247.5 798.3,246.7 799.2,247.4 800.1,246.7 801.1,247.2 802.0,247.0 802.9,247.3 803.8,246.9 804.7,247.0 805.6,247.5 806.5,246.9 807.4,247.3 808.4,248.0 809.3,247.6 810.2,247.5 811.1,247.6 812.0,248.1 812.9,248.0 813.8,248.3 814.7,248.3 815.7,249.2 816.6,248.4 817.5,247.9 818.4,248.8 819.3,248.8 820.2,249.0 821.1,248.4 822.0,249.5 822.9,249.2 823.9,249.2 824.8,248.7 825.7,249.6 826.6,249.5 827.5,250.1 828.4,249.5 829.3,249.3 830.2,249.9 831.2,249.6 832.1,250.2 833.0,249.7 833.9,250.2 834.8,250.2 835.7,250.4 836.6,250.3 837.5,250.3 838.5,250.6 839.4,250.5 840.3,250.9 841.2,250.8 842.1,250.2 843.0,251.1 843.9,251.7 844.8,251.4 845.7,251.6 846.7,251.7 847.6,251.4 848.5,251.1 849.4,252.1 850.3,252.3 851.2,252.2 852.1,252.2 853.0,252.3 854.0,252.2 854.9,252.4 855.8,252.4 856.7,252.6 857.6,252.3 858.5,252.5 859.4,253.0 860.3,252.8 861.3,252.1 862.2,253.2 863.1,252.3 864.0,254.1 864.9,253.7 865.8,253.8 866.7,253.4 867.6,253.3 868.5,253.7 869.5,253.9 870.4,253.7 871.3,254.2 872.2,254.5 873.1,254.5 874.0,254.0 874.9,253.7 875.8,254.6 876.8,254.4 877.7,254.9 878.6,255.5 879.5,255.6 880.4,255.2 881.3,255.6 882.2,255.9 883.1,255.3 884.1,255.5 885.0,255.8 885.9,255.6 886.8,255.5 887.7,255.5 888.6,255.9" stroke="#7030A0" stroke-width="9.2"/>
</g>
<g stroke-width="8.2" stroke-linecap="round" fill="none">
<path d="M487.7,107.8H593.5" stroke="#70AD47"/>
<path d="M701.7,107.8H807.5" stroke="#00B0F0"/>
<path d="M487.7,139.4H593.5" stroke="#ED7D31"/>
<path d="M701.7,139.4H807.5" stroke="#A5A5A5"/>
<path d="M487.7,171.0H593.5" stroke="#FFC000"/>
<path d="M701.7,171.0H807.5" stroke="#7030A0"/>
</g>
<g font-family="Liberation Sans, sans-serif" fill="#595959" stroke="#595959" stroke-width="0.6" stroke-linejoin="round" style="opacity:0.999">
<text x="72.6" y="732.7" font-size="45.6" text-anchor="start" textLength="61.4" lengthAdjust="spacingAndGlyphs" >0.0</text>
<text x="72.6" y="615.9" font-size="45.6" text-anchor="start" textLength="61.4" lengthAdjust="spacingAndGlyphs" >0.5</text>
<text x="72.6" y="499.0" font-size="45.6" text-anchor="start" textLength="61.4" lengthAdjust="spacingAndGlyphs" >1.0</text>
<text x="72.6" y="382.2" font-size="45.6" text-anchor="start" textLength="61.4" lengthAdjust="spacingAndGlyphs" >1.5</text>
<text x="72.6" y="265.4" font-size="45.6" text-anchor="start" textLength="61.4" lengthAdjust="spacingAndGlyphs" >2.0</text>
<text x="72.6" y="148.5" font-size="45.6" text-anchor="start" textLength="61.4" lengthAdjust="spacingAndGlyphs" >2.5</text>
<text x="72.6" y="31.7" font-size="45.6" text-anchor="start" textLength="61.4" lengthAdjust="spacingAndGlyphs" >3.0</text>
<text transform="translate(167.84,797.00) scale(1.0196,1)" font-size="45.6">0</text>
<text transform="translate(299.19,797.00) scale(0.9830,1)" font-size="45.6">100</text>
<text transform="translate(456.15,797.00) scale(0.9882,1)" font-size="45.6">200</text>
<text transform="translate(613.32,797.00) scale(0.9805,1)" font-size="45.6">300</text>
<text transform="translate(770.09,797.00) scale(0.9850,1)" font-size="45.6">400</text>
<text transform="translate(926.41,797.00) scale(0.9820,1)" font-size="45.6">500</text>
<g stroke="none" transform="translate(533.7,875.5)"><text transform="translate(-0.70,0.00) scale(1.1252,1)" font-size="50" font-weight="bold">t</text><path d="M31.5,10.5 L38.3,10.5 L54.2,-39.3 L48.5,-39.3Z"/><text transform="translate(55.68,0.00) scale(0.7250,1)" font-size="50" font-weight="bold" stroke="#595959" stroke-width="1.3" vector-effect="non-scaling-stroke">s</text></g>
<g stroke="none" transform="translate(40.3,488) rotate(-90)"><text transform="translate(0.50,0.00) scale(1.0697,1)" font-size="50" font-weight="bold">ȷ</text><rect x="3.7" y="-36.5" width="8.2" height="7.4" rx="2.3"/><path d="M27.0,8.0 L33.6,8.0 L50.0,-39.5 L43.6,-39.5Z"/><text transform="translate(51.39,0.00) scale(0.9862,1)" font-size="50" font-weight="bold">m</text><text transform="translate(95.33,0.00) scale(0.9343,1)" font-size="50" font-weight="bold">A</text><text transform="translate(142.79,0.00) scale(0.7303,1)" font-size="50" font-weight="bold" stroke="#595959" stroke-width="1.3" vector-effect="non-scaling-stroke">c</text><text transform="translate(164.81,0.00) scale(0.9810,1)" font-size="50" font-weight="bold">m</text><text transform="translate(210.03,-16.60) scale(0.8620,1)" font-size="34" font-weight="bold">-</text><text transform="translate(221.58,-16.80) scale(0.9748,1)" font-size="32.7" font-weight="bold">2</text></g>
<text x="342.7" y="454.3" font-size="34.4" text-anchor="start" textLength="47.9" lengthAdjust="spacingAndGlyphs" >0.0</text>
<text x="342.7" y="393.3" font-size="34.4" text-anchor="start" textLength="47.9" lengthAdjust="spacingAndGlyphs" >0.5</text>
<text x="342.7" y="332.3" font-size="34.4" text-anchor="start" textLength="47.9" lengthAdjust="spacingAndGlyphs" >1.0</text>
<text x="342.7" y="271.3" font-size="34.4" text-anchor="start" textLength="47.9" lengthAdjust="spacingAndGlyphs" >1.5</text>
<text x="342.7" y="210.3" font-size="34.4" text-anchor="start" textLength="47.9" lengthAdjust="spacingAndGlyphs" >2.0</text>
<text x="342.7" y="149.3" font-size="34.4" text-anchor="start" textLength="47.9" lengthAdjust="spacingAndGlyphs" >2.5</text>
<text x="342.7" y="88.3" font-size="34.4" text-anchor="start" textLength="47.9" lengthAdjust="spacingAndGlyphs" >3.0</text>
<text transform="translate(416.66,504.40) scale(1.0471,1)" font-size="34.4">0</text>
<text transform="translate(531.82,504.40) scale(0.9302,1)" font-size="34.4">5</text>
<text transform="translate(634.11,504.40) scale(1.0433,1)" font-size="34.4">10</text>
<text transform="translate(748.45,504.40) scale(1.0284,1)" font-size="34.4">15</text>
<text transform="translate(862.83,504.40) scale(1.0292,1)" font-size="34.4">20</text>
<g stroke="none" transform="translate(624.4,542) scale(0.808)"><text transform="translate(-0.70,0.00) scale(1.1252,1)" font-size="50" font-weight="bold">t</text><path d="M31.5,10.5 L38.3,10.5 L54.2,-39.3 L48.5,-39.3Z"/><text transform="translate(55.68,0.00) scale(0.7250,1)" font-size="50" font-weight="bold" stroke="#595959" stroke-width="1.3" vector-effect="non-scaling-stroke">s</text></g>
<g stroke="none" transform="translate(315,358) rotate(-90) scale(0.81)"><text transform="translate(0.50,0.00) scale(1.0697,1)" font-size="50" font-weight="bold">ȷ</text><rect x="3.7" y="-36.5" width="8.2" height="7.4" rx="2.3"/><path d="M27.0,8.0 L33.6,8.0 L50.0,-39.5 L43.6,-39.5Z"/><text transform="translate(51.39,0.00) scale(0.9862,1)" font-size="50" font-weight="bold">m</text><text transform="translate(95.33,0.00) scale(0.9343,1)" font-size="50" font-weight="bold">A</text><text transform="translate(142.79,0.00) scale(0.7303,1)" font-size="50" font-weight="bold" stroke="#595959" stroke-width="1.3" vector-effect="non-scaling-stroke">c</text><text transform="translate(164.81,0.00) scale(0.9810,1)" font-size="50" font-weight="bold">m</text><text transform="translate(210.03,-16.60) scale(0.8620,1)" font-size="34" font-weight="bold">-</text><text transform="translate(221.58,-16.80) scale(0.9748,1)" font-size="32.7" font-weight="bold">2</text></g>
<text transform="translate(604.60,115.60) scale(1.0583,1)" font-size="23.6" font-weight="bold">0.7V</text>
<text transform="translate(818.30,115.60) scale(1.0541,1)" font-size="23.6" font-weight="bold">0.8V</text>
<text transform="translate(604.60,147.20) scale(1.0583,1)" font-size="23.6" font-weight="bold">0.9V</text>
<text transform="translate(817.73,147.20) scale(1.0660,1)" font-size="23.6" font-weight="bold">1.0V</text>
<text transform="translate(604.02,178.80) scale(1.0702,1)" font-size="23.6" font-weight="bold">1.1V</text>
<text transform="translate(817.73,178.80) scale(1.0660,1)" font-size="23.6" font-weight="bold">1.2V</text>
</g>
<path d="M42.6,357.0 41.4,358.5 42.6,360.0 41.4,361.5 42.6,363.0 41.4,364.5 42.6,366.0 41.4,367.5 42.6,369.0 41.4,370.5 42.6,372.0 41.4,373.5 42.6,375.0 41.4,376.5 42.6,378.0 41.4,379.5 42.6,381.0 41.4,382.5 42.6,384.0 41.4,385.5 42.6,387.0 41.4,388.5 42.6,390.0 41.4,391.5 42.6,393.0 41.4,394.5 42.6,396.0 41.4,397.5 42.6,399.0 41.4,400.5 42.6,402.0 41.4,403.5 42.6,405.0 41.4,406.5 42.6,408.0 41.4,409.5 42.6,411.0 41.4,412.5 42.6,414.0 41.4,415.5 42.6,417.0 41.4,418.5 42.6,420.0 41.4,421.5 42.6,423.0 41.4,424.5 42.6,426.0 41.4,427.5 42.6,429.0 41.4,430.5 42.6,432.0 41.4,433.5 42.6,435.0 41.4,436.5 42.6,438.0" stroke="#ff0000" stroke-width="0.8" fill="none"/>
<path d="M317.1,252.0 315.9,253.5 317.1,255.0 315.9,256.5 317.1,258.0 315.9,259.5 317.1,261.0 315.9,262.5 317.1,264.0 315.9,265.5 317.1,267.0 315.9,268.5 317.1,270.0 315.9,271.5 317.1,273.0 315.9,274.5 317.1,276.0 315.9,277.5 317.1,279.0 315.9,280.5 317.1,282.0 315.9,283.5 317.1,285.0 315.9,286.5 317.1,288.0 315.9,289.5 317.1,291.0 315.9,292.5 317.1,294.0 315.9,295.5 317.1,297.0 315.9,298.5 317.1,300.0 315.9,301.5 317.1,303.0 315.9,304.5 317.1,306.0 315.9,307.5 317.1,309.0 315.9,310.5 317.1,312.0 315.9,313.5 317.1,315.0" stroke="#ff0000" stroke-width="0.8" fill="none"/>
</svg></body></html>
